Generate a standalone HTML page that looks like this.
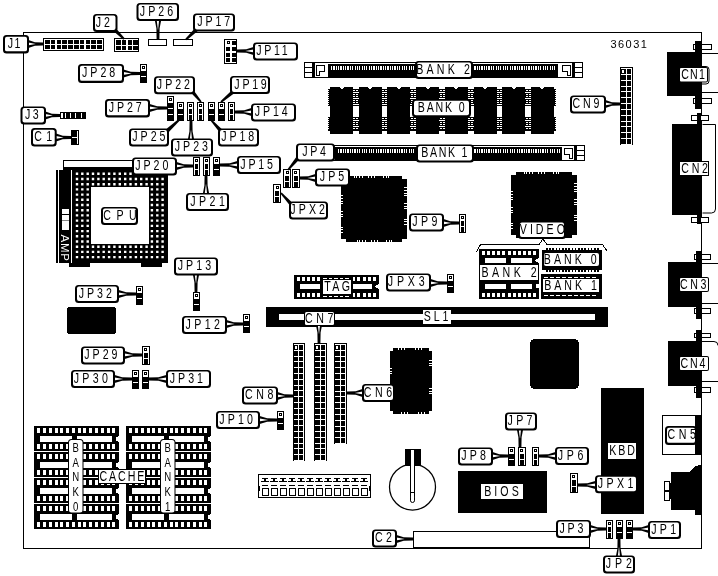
<!DOCTYPE html>
<html><head><meta charset="utf-8"><title>36031</title>
<style>
html,body{margin:0;padding:0;background:#fff}
svg{display:block;will-change:transform}
text{font-family:"Liberation Sans",sans-serif}
</style></head>
<body>
<svg width="718" height="576" viewBox="0 0 718 576" shape-rendering="crispEdges">
<rect x="0" y="0" width="718" height="576" fill="#fff"/>
<rect x="23" y="32" width="679" height="1" fill="#000"/>
<rect x="23" y="32" width="1" height="517" fill="#000"/>
<rect x="701" y="32" width="1" height="517" fill="#000"/>
<rect x="23" y="548" width="679" height="1" fill="#000"/>
<rect x="43.5" y="38.5" width="60" height="12" fill="#fff" stroke="#000" stroke-width="1"/>
<rect x="45.0" y="40" width="4.6" height="4" fill="#000"/>
<rect x="45.0" y="45" width="4.6" height="4" fill="#000"/>
<rect x="50.8" y="40" width="4.6" height="4" fill="#000"/>
<rect x="50.8" y="45" width="4.6" height="4" fill="#000"/>
<rect x="56.6" y="40" width="4.6" height="4" fill="#000"/>
<rect x="56.6" y="45" width="4.6" height="4" fill="#000"/>
<rect x="62.4" y="40" width="4.6" height="4" fill="#000"/>
<rect x="62.4" y="45" width="4.6" height="4" fill="#000"/>
<rect x="68.2" y="40" width="4.6" height="4" fill="#000"/>
<rect x="68.2" y="45" width="4.6" height="4" fill="#000"/>
<rect x="74.0" y="40" width="4.6" height="4" fill="#000"/>
<rect x="74.0" y="45" width="4.6" height="4" fill="#000"/>
<rect x="79.8" y="40" width="4.6" height="4" fill="#000"/>
<rect x="79.8" y="45" width="4.6" height="4" fill="#000"/>
<rect x="85.6" y="40" width="4.6" height="4" fill="#000"/>
<rect x="85.6" y="45" width="4.6" height="4" fill="#000"/>
<rect x="91.4" y="40" width="4.6" height="4" fill="#000"/>
<rect x="91.4" y="45" width="4.6" height="4" fill="#000"/>
<rect x="97.19999999999999" y="40" width="4.6" height="4" fill="#000"/>
<rect x="97.19999999999999" y="45" width="4.6" height="4" fill="#000"/>
<rect x="114.5" y="38.5" width="24" height="13" fill="#fff" stroke="#000" stroke-width="1"/>
<rect x="116.0" y="40.0" width="4.6" height="4.5" fill="#000"/>
<rect x="116.0" y="45.5" width="4.6" height="4.5" fill="#000"/>
<rect x="121.8" y="40.0" width="4.6" height="4.5" fill="#000"/>
<rect x="121.8" y="45.5" width="4.6" height="4.5" fill="#000"/>
<rect x="127.6" y="40.0" width="4.6" height="4.5" fill="#000"/>
<rect x="127.6" y="45.5" width="4.6" height="4.5" fill="#000"/>
<rect x="133.4" y="40.0" width="4.6" height="4.5" fill="#000"/>
<rect x="133.4" y="45.5" width="4.6" height="4.5" fill="#000"/>
<rect x="148.5" y="39.5" width="18" height="6" fill="#fff" stroke="#000" stroke-width="1"/>
<rect x="173.5" y="39.5" width="19" height="6" fill="#fff" stroke="#000" stroke-width="1"/>
<rect x="224.5" y="39.5" width="12" height="24" fill="#fff" stroke="#000" stroke-width="1"/>
<rect x="232" y="41" width="4" height="4" fill="#000"/>
<rect x="226" y="47" width="4" height="4" fill="#000"/>
<rect x="232" y="47" width="4" height="4" fill="#000"/>
<rect x="226" y="53" width="4" height="4" fill="#000"/>
<rect x="232" y="53" width="4" height="4" fill="#000"/>
<rect x="226" y="58" width="4" height="4" fill="#000"/>
<rect x="232" y="58" width="4" height="4" fill="#000"/>
<rect x="227.5" y="41.5" width="2" height="2" fill="#fff" stroke="#000" stroke-width="1"/>
<rect x="304.5" y="62.5" width="278" height="15" fill="#fff" stroke="#000" stroke-width="1"/>
<rect x="304" y="67" width="8" height="1" fill="#000"/>
<rect x="304" y="72" width="8" height="1" fill="#000"/>
<rect x="312" y="62" width="3" height="16" fill="#000"/>
<path d="M316.5,65.5 h8 v6 h-5 v4 h-3 z" fill="#fff" stroke="#000" stroke-width="1"/>
<rect x="575" y="67" width="8" height="1" fill="#000"/>
<rect x="575" y="72" width="8" height="1" fill="#000"/>
<rect x="572" y="62" width="3" height="16" fill="#000"/>
<path d="M570.5,65.5 h-8 v6 h5 v4 h3 z" fill="#fff" stroke="#000" stroke-width="1"/>
<rect x="328" y="63.5" width="230" height="13" fill="#000"/>
<rect x="331" y="66" width="1.2" height="4" fill="#fff"/>
<rect x="333.35" y="66" width="1.2" height="4" fill="#fff"/>
<rect x="335.70000000000005" y="66" width="1.2" height="4" fill="#fff"/>
<rect x="338.05000000000007" y="66" width="1.2" height="4" fill="#fff"/>
<rect x="340.4000000000001" y="66" width="1.2" height="4" fill="#fff"/>
<rect x="342.7500000000001" y="66" width="1.2" height="4" fill="#fff"/>
<rect x="345.10000000000014" y="66" width="1.2" height="4" fill="#fff"/>
<rect x="347.45000000000016" y="66" width="1.2" height="4" fill="#fff"/>
<rect x="349.8000000000002" y="66" width="1.2" height="4" fill="#fff"/>
<rect x="352.1500000000002" y="66" width="1.2" height="4" fill="#fff"/>
<rect x="354.5000000000002" y="66" width="1.2" height="4" fill="#fff"/>
<rect x="356.85000000000025" y="66" width="1.2" height="4" fill="#fff"/>
<rect x="359.2000000000003" y="66" width="1.2" height="4" fill="#fff"/>
<rect x="361.5500000000003" y="66" width="1.2" height="4" fill="#fff"/>
<rect x="363.9000000000003" y="66" width="1.2" height="4" fill="#fff"/>
<rect x="366.25000000000034" y="66" width="1.2" height="4" fill="#fff"/>
<rect x="368.60000000000036" y="66" width="1.2" height="4" fill="#fff"/>
<rect x="370.9500000000004" y="66" width="1.2" height="4" fill="#fff"/>
<rect x="373.3000000000004" y="66" width="1.2" height="4" fill="#fff"/>
<rect x="375.65000000000043" y="66" width="1.2" height="4" fill="#fff"/>
<rect x="378.00000000000045" y="66" width="1.2" height="4" fill="#fff"/>
<rect x="380.3500000000005" y="66" width="1.2" height="4" fill="#fff"/>
<rect x="382.7000000000005" y="66" width="1.2" height="4" fill="#fff"/>
<rect x="385.0500000000005" y="66" width="1.2" height="4" fill="#fff"/>
<rect x="387.40000000000055" y="66" width="1.2" height="4" fill="#fff"/>
<rect x="389.75000000000057" y="66" width="1.2" height="4" fill="#fff"/>
<rect x="392.1000000000006" y="66" width="1.2" height="4" fill="#fff"/>
<rect x="394.4500000000006" y="66" width="1.2" height="4" fill="#fff"/>
<rect x="396.80000000000064" y="66" width="1.2" height="4" fill="#fff"/>
<rect x="399.15000000000066" y="66" width="1.2" height="4" fill="#fff"/>
<rect x="401.5000000000007" y="66" width="1.2" height="4" fill="#fff"/>
<rect x="403.8500000000007" y="66" width="1.2" height="4" fill="#fff"/>
<rect x="406.2000000000007" y="66" width="1.2" height="4" fill="#fff"/>
<rect x="408.55000000000075" y="66" width="1.2" height="4" fill="#fff"/>
<rect x="410.9000000000008" y="66" width="1.2" height="4" fill="#fff"/>
<rect x="413.2500000000008" y="66" width="1.2" height="4" fill="#fff"/>
<rect x="415.6000000000008" y="66" width="1.2" height="4" fill="#fff"/>
<rect x="417.95000000000084" y="66" width="1.2" height="4" fill="#fff"/>
<rect x="420.30000000000086" y="66" width="1.2" height="4" fill="#fff"/>
<rect x="422.6500000000009" y="66" width="1.2" height="4" fill="#fff"/>
<rect x="425.0000000000009" y="66" width="1.2" height="4" fill="#fff"/>
<rect x="427.35000000000093" y="66" width="1.2" height="4" fill="#fff"/>
<rect x="429.70000000000095" y="66" width="1.2" height="4" fill="#fff"/>
<rect x="432.050000000001" y="66" width="1.2" height="4" fill="#fff"/>
<rect x="434.400000000001" y="66" width="1.2" height="4" fill="#fff"/>
<rect x="436.750000000001" y="66" width="1.2" height="4" fill="#fff"/>
<rect x="439.10000000000105" y="66" width="1.2" height="4" fill="#fff"/>
<rect x="441.45000000000107" y="66" width="1.2" height="4" fill="#fff"/>
<rect x="443.8000000000011" y="66" width="1.2" height="4" fill="#fff"/>
<rect x="446.1500000000011" y="66" width="1.2" height="4" fill="#fff"/>
<rect x="448.50000000000114" y="66" width="1.2" height="4" fill="#fff"/>
<rect x="450.85000000000116" y="66" width="1.2" height="4" fill="#fff"/>
<rect x="453.2000000000012" y="66" width="1.2" height="4" fill="#fff"/>
<rect x="455.5500000000012" y="66" width="1.2" height="4" fill="#fff"/>
<rect x="457.9000000000012" y="66" width="1.2" height="4" fill="#fff"/>
<rect x="460.25000000000125" y="66" width="1.2" height="4" fill="#fff"/>
<rect x="462.6000000000013" y="66" width="1.2" height="4" fill="#fff"/>
<rect x="464.9500000000013" y="66" width="1.2" height="4" fill="#fff"/>
<rect x="467.3000000000013" y="66" width="1.2" height="4" fill="#fff"/>
<rect x="469.65000000000134" y="66" width="1.2" height="4" fill="#fff"/>
<rect x="472.00000000000136" y="66" width="1.2" height="4" fill="#fff"/>
<rect x="474.3500000000014" y="66" width="1.2" height="4" fill="#fff"/>
<rect x="476.7000000000014" y="66" width="1.2" height="4" fill="#fff"/>
<rect x="479.05000000000143" y="66" width="1.2" height="4" fill="#fff"/>
<rect x="481.40000000000146" y="66" width="1.2" height="4" fill="#fff"/>
<rect x="483.7500000000015" y="66" width="1.2" height="4" fill="#fff"/>
<rect x="486.1000000000015" y="66" width="1.2" height="4" fill="#fff"/>
<rect x="488.4500000000015" y="66" width="1.2" height="4" fill="#fff"/>
<rect x="490.80000000000155" y="66" width="1.2" height="4" fill="#fff"/>
<rect x="493.15000000000157" y="66" width="1.2" height="4" fill="#fff"/>
<rect x="495.5000000000016" y="66" width="1.2" height="4" fill="#fff"/>
<rect x="497.8500000000016" y="66" width="1.2" height="4" fill="#fff"/>
<rect x="500.20000000000164" y="66" width="1.2" height="4" fill="#fff"/>
<rect x="502.55000000000166" y="66" width="1.2" height="4" fill="#fff"/>
<rect x="504.9000000000017" y="66" width="1.2" height="4" fill="#fff"/>
<rect x="507.2500000000017" y="66" width="1.2" height="4" fill="#fff"/>
<rect x="509.6000000000017" y="66" width="1.2" height="4" fill="#fff"/>
<rect x="511.95000000000175" y="66" width="1.2" height="4" fill="#fff"/>
<rect x="514.3000000000018" y="66" width="1.2" height="4" fill="#fff"/>
<rect x="516.6500000000018" y="66" width="1.2" height="4" fill="#fff"/>
<rect x="519.0000000000018" y="66" width="1.2" height="4" fill="#fff"/>
<rect x="521.3500000000018" y="66" width="1.2" height="4" fill="#fff"/>
<rect x="523.7000000000019" y="66" width="1.2" height="4" fill="#fff"/>
<rect x="526.0500000000019" y="66" width="1.2" height="4" fill="#fff"/>
<rect x="528.4000000000019" y="66" width="1.2" height="4" fill="#fff"/>
<rect x="530.7500000000019" y="66" width="1.2" height="4" fill="#fff"/>
<rect x="533.100000000002" y="66" width="1.2" height="4" fill="#fff"/>
<rect x="535.450000000002" y="66" width="1.2" height="4" fill="#fff"/>
<rect x="537.800000000002" y="66" width="1.2" height="4" fill="#fff"/>
<rect x="540.150000000002" y="66" width="1.2" height="4" fill="#fff"/>
<rect x="542.500000000002" y="66" width="1.2" height="4" fill="#fff"/>
<rect x="544.8500000000021" y="66" width="1.2" height="4" fill="#fff"/>
<rect x="547.2000000000021" y="66" width="1.2" height="4" fill="#fff"/>
<rect x="549.5500000000021" y="66" width="1.2" height="4" fill="#fff"/>
<rect x="551.9000000000021" y="66" width="1.2" height="4" fill="#fff"/>
<rect x="554.2500000000022" y="66" width="1.2" height="4" fill="#fff"/>
<rect x="320.5" y="145.5" width="264" height="15" fill="#fff" stroke="#000" stroke-width="1"/>
<rect x="577" y="150" width="8" height="1" fill="#000"/>
<rect x="577" y="155" width="8" height="1" fill="#000"/>
<rect x="574" y="145" width="3" height="16" fill="#000"/>
<path d="M572.5,148.5 h-8 v6 h5 v4 h3 z" fill="#fff" stroke="#000" stroke-width="1"/>
<rect x="335" y="146.5" width="227" height="13" fill="#000"/>
<rect x="338" y="149" width="1.2" height="4" fill="#fff"/>
<rect x="340.35" y="149" width="1.2" height="4" fill="#fff"/>
<rect x="342.70000000000005" y="149" width="1.2" height="4" fill="#fff"/>
<rect x="345.05000000000007" y="149" width="1.2" height="4" fill="#fff"/>
<rect x="347.4000000000001" y="149" width="1.2" height="4" fill="#fff"/>
<rect x="349.7500000000001" y="149" width="1.2" height="4" fill="#fff"/>
<rect x="352.10000000000014" y="149" width="1.2" height="4" fill="#fff"/>
<rect x="354.45000000000016" y="149" width="1.2" height="4" fill="#fff"/>
<rect x="356.8000000000002" y="149" width="1.2" height="4" fill="#fff"/>
<rect x="359.1500000000002" y="149" width="1.2" height="4" fill="#fff"/>
<rect x="361.5000000000002" y="149" width="1.2" height="4" fill="#fff"/>
<rect x="363.85000000000025" y="149" width="1.2" height="4" fill="#fff"/>
<rect x="366.2000000000003" y="149" width="1.2" height="4" fill="#fff"/>
<rect x="368.5500000000003" y="149" width="1.2" height="4" fill="#fff"/>
<rect x="370.9000000000003" y="149" width="1.2" height="4" fill="#fff"/>
<rect x="373.25000000000034" y="149" width="1.2" height="4" fill="#fff"/>
<rect x="375.60000000000036" y="149" width="1.2" height="4" fill="#fff"/>
<rect x="377.9500000000004" y="149" width="1.2" height="4" fill="#fff"/>
<rect x="380.3000000000004" y="149" width="1.2" height="4" fill="#fff"/>
<rect x="382.65000000000043" y="149" width="1.2" height="4" fill="#fff"/>
<rect x="385.00000000000045" y="149" width="1.2" height="4" fill="#fff"/>
<rect x="387.3500000000005" y="149" width="1.2" height="4" fill="#fff"/>
<rect x="389.7000000000005" y="149" width="1.2" height="4" fill="#fff"/>
<rect x="392.0500000000005" y="149" width="1.2" height="4" fill="#fff"/>
<rect x="394.40000000000055" y="149" width="1.2" height="4" fill="#fff"/>
<rect x="396.75000000000057" y="149" width="1.2" height="4" fill="#fff"/>
<rect x="399.1000000000006" y="149" width="1.2" height="4" fill="#fff"/>
<rect x="401.4500000000006" y="149" width="1.2" height="4" fill="#fff"/>
<rect x="403.80000000000064" y="149" width="1.2" height="4" fill="#fff"/>
<rect x="406.15000000000066" y="149" width="1.2" height="4" fill="#fff"/>
<rect x="408.5000000000007" y="149" width="1.2" height="4" fill="#fff"/>
<rect x="410.8500000000007" y="149" width="1.2" height="4" fill="#fff"/>
<rect x="413.2000000000007" y="149" width="1.2" height="4" fill="#fff"/>
<rect x="415.55000000000075" y="149" width="1.2" height="4" fill="#fff"/>
<rect x="417.9000000000008" y="149" width="1.2" height="4" fill="#fff"/>
<rect x="420.2500000000008" y="149" width="1.2" height="4" fill="#fff"/>
<rect x="422.6000000000008" y="149" width="1.2" height="4" fill="#fff"/>
<rect x="424.95000000000084" y="149" width="1.2" height="4" fill="#fff"/>
<rect x="427.30000000000086" y="149" width="1.2" height="4" fill="#fff"/>
<rect x="429.6500000000009" y="149" width="1.2" height="4" fill="#fff"/>
<rect x="432.0000000000009" y="149" width="1.2" height="4" fill="#fff"/>
<rect x="434.35000000000093" y="149" width="1.2" height="4" fill="#fff"/>
<rect x="436.70000000000095" y="149" width="1.2" height="4" fill="#fff"/>
<rect x="439.050000000001" y="149" width="1.2" height="4" fill="#fff"/>
<rect x="441.400000000001" y="149" width="1.2" height="4" fill="#fff"/>
<rect x="443.750000000001" y="149" width="1.2" height="4" fill="#fff"/>
<rect x="446.10000000000105" y="149" width="1.2" height="4" fill="#fff"/>
<rect x="448.45000000000107" y="149" width="1.2" height="4" fill="#fff"/>
<rect x="450.8000000000011" y="149" width="1.2" height="4" fill="#fff"/>
<rect x="453.1500000000011" y="149" width="1.2" height="4" fill="#fff"/>
<rect x="455.50000000000114" y="149" width="1.2" height="4" fill="#fff"/>
<rect x="457.85000000000116" y="149" width="1.2" height="4" fill="#fff"/>
<rect x="460.2000000000012" y="149" width="1.2" height="4" fill="#fff"/>
<rect x="462.5500000000012" y="149" width="1.2" height="4" fill="#fff"/>
<rect x="464.9000000000012" y="149" width="1.2" height="4" fill="#fff"/>
<rect x="467.25000000000125" y="149" width="1.2" height="4" fill="#fff"/>
<rect x="469.6000000000013" y="149" width="1.2" height="4" fill="#fff"/>
<rect x="471.9500000000013" y="149" width="1.2" height="4" fill="#fff"/>
<rect x="474.3000000000013" y="149" width="1.2" height="4" fill="#fff"/>
<rect x="476.65000000000134" y="149" width="1.2" height="4" fill="#fff"/>
<rect x="479.00000000000136" y="149" width="1.2" height="4" fill="#fff"/>
<rect x="481.3500000000014" y="149" width="1.2" height="4" fill="#fff"/>
<rect x="483.7000000000014" y="149" width="1.2" height="4" fill="#fff"/>
<rect x="486.05000000000143" y="149" width="1.2" height="4" fill="#fff"/>
<rect x="488.40000000000146" y="149" width="1.2" height="4" fill="#fff"/>
<rect x="490.7500000000015" y="149" width="1.2" height="4" fill="#fff"/>
<rect x="493.1000000000015" y="149" width="1.2" height="4" fill="#fff"/>
<rect x="495.4500000000015" y="149" width="1.2" height="4" fill="#fff"/>
<rect x="497.80000000000155" y="149" width="1.2" height="4" fill="#fff"/>
<rect x="500.15000000000157" y="149" width="1.2" height="4" fill="#fff"/>
<rect x="502.5000000000016" y="149" width="1.2" height="4" fill="#fff"/>
<rect x="504.8500000000016" y="149" width="1.2" height="4" fill="#fff"/>
<rect x="507.20000000000164" y="149" width="1.2" height="4" fill="#fff"/>
<rect x="509.55000000000166" y="149" width="1.2" height="4" fill="#fff"/>
<rect x="511.9000000000017" y="149" width="1.2" height="4" fill="#fff"/>
<rect x="514.2500000000017" y="149" width="1.2" height="4" fill="#fff"/>
<rect x="516.6000000000017" y="149" width="1.2" height="4" fill="#fff"/>
<rect x="518.9500000000018" y="149" width="1.2" height="4" fill="#fff"/>
<rect x="521.3000000000018" y="149" width="1.2" height="4" fill="#fff"/>
<rect x="523.6500000000018" y="149" width="1.2" height="4" fill="#fff"/>
<rect x="526.0000000000018" y="149" width="1.2" height="4" fill="#fff"/>
<rect x="528.3500000000018" y="149" width="1.2" height="4" fill="#fff"/>
<rect x="530.7000000000019" y="149" width="1.2" height="4" fill="#fff"/>
<rect x="533.0500000000019" y="149" width="1.2" height="4" fill="#fff"/>
<rect x="535.4000000000019" y="149" width="1.2" height="4" fill="#fff"/>
<rect x="537.7500000000019" y="149" width="1.2" height="4" fill="#fff"/>
<rect x="540.100000000002" y="149" width="1.2" height="4" fill="#fff"/>
<rect x="542.450000000002" y="149" width="1.2" height="4" fill="#fff"/>
<rect x="544.800000000002" y="149" width="1.2" height="4" fill="#fff"/>
<rect x="547.150000000002" y="149" width="1.2" height="4" fill="#fff"/>
<rect x="549.500000000002" y="149" width="1.2" height="4" fill="#fff"/>
<rect x="551.8500000000021" y="149" width="1.2" height="4" fill="#fff"/>
<rect x="554.2000000000021" y="149" width="1.2" height="4" fill="#fff"/>
<rect x="556.5500000000021" y="149" width="1.2" height="4" fill="#fff"/>
<rect x="558.9000000000021" y="149" width="1.2" height="4" fill="#fff"/>
<rect x="330.0" y="87" width="23" height="46.5" fill="#000"/>
<polygon points="339.0,87 344.0,87 341.5,89.5" fill="#fff"/>
<rect x="358.7" y="87" width="23" height="46.5" fill="#000"/>
<polygon points="367.7,87 372.7,87 370.2,89.5" fill="#fff"/>
<rect x="387.4" y="87" width="23" height="46.5" fill="#000"/>
<polygon points="396.4,87 401.4,87 398.9,89.5" fill="#fff"/>
<rect x="416.1" y="87" width="23" height="46.5" fill="#000"/>
<polygon points="425.1,87 430.1,87 427.6,89.5" fill="#fff"/>
<rect x="444.8" y="87" width="23" height="46.5" fill="#000"/>
<polygon points="453.8,87 458.8,87 456.3,89.5" fill="#fff"/>
<rect x="473.5" y="87" width="23" height="46.5" fill="#000"/>
<polygon points="482.5,87 487.5,87 485.0,89.5" fill="#fff"/>
<rect x="502.2" y="87" width="23" height="46.5" fill="#000"/>
<polygon points="511.2,87 516.2,87 513.7,89.5" fill="#fff"/>
<rect x="530.9" y="87" width="23" height="46.5" fill="#000"/>
<polygon points="539.9,87 544.9,87 542.4,89.5" fill="#fff"/>
<rect x="328" y="89" width="2" height="17" fill="#000"/>
<rect x="328" y="90" width="1" height="1" fill="#fff"/>
<rect x="328" y="92" width="1" height="1" fill="#fff"/>
<rect x="328" y="94" width="1" height="1" fill="#fff"/>
<rect x="328" y="96" width="1" height="1" fill="#fff"/>
<rect x="328" y="98" width="1" height="1" fill="#fff"/>
<rect x="328" y="100" width="1" height="1" fill="#fff"/>
<rect x="328" y="102" width="1" height="1" fill="#fff"/>
<rect x="328" y="104" width="1" height="1" fill="#fff"/>
<rect x="328" y="117" width="2" height="14" fill="#000"/>
<rect x="328" y="118" width="1" height="1" fill="#fff"/>
<rect x="328" y="120" width="1" height="1" fill="#fff"/>
<rect x="328" y="122" width="1" height="1" fill="#fff"/>
<rect x="328" y="124" width="1" height="1" fill="#fff"/>
<rect x="328" y="126" width="1" height="1" fill="#fff"/>
<rect x="328" y="128" width="1" height="1" fill="#fff"/>
<rect x="353.0" y="89" width="5.7" height="17" fill="#000"/>
<rect x="353.4" y="90" width="2" height="1" fill="#fff"/>
<rect x="356.4" y="90" width="2" height="1" fill="#fff"/>
<rect x="353.0" y="92" width="5.7" height="1" fill="#fff"/>
<rect x="353.4" y="94" width="2" height="1" fill="#fff"/>
<rect x="356.4" y="94" width="2" height="1" fill="#fff"/>
<rect x="353.4" y="96" width="2" height="1" fill="#fff"/>
<rect x="356.4" y="96" width="2" height="1" fill="#fff"/>
<rect x="353.0" y="98" width="5.7" height="1" fill="#fff"/>
<rect x="353.4" y="100" width="2" height="1" fill="#fff"/>
<rect x="356.4" y="100" width="2" height="1" fill="#fff"/>
<rect x="353.4" y="102" width="2" height="1" fill="#fff"/>
<rect x="356.4" y="102" width="2" height="1" fill="#fff"/>
<rect x="353.0" y="104" width="5.7" height="1" fill="#fff"/>
<rect x="353.0" y="117" width="5.7" height="14" fill="#000"/>
<rect x="353.4" y="118" width="2" height="1" fill="#fff"/>
<rect x="356.4" y="118" width="2" height="1" fill="#fff"/>
<rect x="353.0" y="120" width="5.7" height="1" fill="#fff"/>
<rect x="353.4" y="122" width="2" height="1" fill="#fff"/>
<rect x="356.4" y="122" width="2" height="1" fill="#fff"/>
<rect x="353.4" y="124" width="2" height="1" fill="#fff"/>
<rect x="356.4" y="124" width="2" height="1" fill="#fff"/>
<rect x="353.0" y="126" width="5.7" height="1" fill="#fff"/>
<rect x="353.4" y="128" width="2" height="1" fill="#fff"/>
<rect x="356.4" y="128" width="2" height="1" fill="#fff"/>
<rect x="381.7" y="89" width="5.7" height="17" fill="#000"/>
<rect x="382.09999999999997" y="90" width="2" height="1" fill="#fff"/>
<rect x="385.09999999999997" y="90" width="2" height="1" fill="#fff"/>
<rect x="381.7" y="92" width="5.7" height="1" fill="#fff"/>
<rect x="382.09999999999997" y="94" width="2" height="1" fill="#fff"/>
<rect x="385.09999999999997" y="94" width="2" height="1" fill="#fff"/>
<rect x="382.09999999999997" y="96" width="2" height="1" fill="#fff"/>
<rect x="385.09999999999997" y="96" width="2" height="1" fill="#fff"/>
<rect x="381.7" y="98" width="5.7" height="1" fill="#fff"/>
<rect x="382.09999999999997" y="100" width="2" height="1" fill="#fff"/>
<rect x="385.09999999999997" y="100" width="2" height="1" fill="#fff"/>
<rect x="382.09999999999997" y="102" width="2" height="1" fill="#fff"/>
<rect x="385.09999999999997" y="102" width="2" height="1" fill="#fff"/>
<rect x="381.7" y="104" width="5.7" height="1" fill="#fff"/>
<rect x="381.7" y="117" width="5.7" height="14" fill="#000"/>
<rect x="382.09999999999997" y="118" width="2" height="1" fill="#fff"/>
<rect x="385.09999999999997" y="118" width="2" height="1" fill="#fff"/>
<rect x="381.7" y="120" width="5.7" height="1" fill="#fff"/>
<rect x="382.09999999999997" y="122" width="2" height="1" fill="#fff"/>
<rect x="385.09999999999997" y="122" width="2" height="1" fill="#fff"/>
<rect x="382.09999999999997" y="124" width="2" height="1" fill="#fff"/>
<rect x="385.09999999999997" y="124" width="2" height="1" fill="#fff"/>
<rect x="381.7" y="126" width="5.7" height="1" fill="#fff"/>
<rect x="382.09999999999997" y="128" width="2" height="1" fill="#fff"/>
<rect x="385.09999999999997" y="128" width="2" height="1" fill="#fff"/>
<rect x="410.40000000000003" y="89" width="5.7" height="17" fill="#000"/>
<rect x="410.8" y="90" width="2" height="1" fill="#fff"/>
<rect x="413.8" y="90" width="2" height="1" fill="#fff"/>
<rect x="410.40000000000003" y="92" width="5.7" height="1" fill="#fff"/>
<rect x="410.8" y="94" width="2" height="1" fill="#fff"/>
<rect x="413.8" y="94" width="2" height="1" fill="#fff"/>
<rect x="410.8" y="96" width="2" height="1" fill="#fff"/>
<rect x="413.8" y="96" width="2" height="1" fill="#fff"/>
<rect x="410.40000000000003" y="98" width="5.7" height="1" fill="#fff"/>
<rect x="410.8" y="100" width="2" height="1" fill="#fff"/>
<rect x="413.8" y="100" width="2" height="1" fill="#fff"/>
<rect x="410.8" y="102" width="2" height="1" fill="#fff"/>
<rect x="413.8" y="102" width="2" height="1" fill="#fff"/>
<rect x="410.40000000000003" y="104" width="5.7" height="1" fill="#fff"/>
<rect x="410.40000000000003" y="117" width="5.7" height="14" fill="#000"/>
<rect x="410.8" y="118" width="2" height="1" fill="#fff"/>
<rect x="413.8" y="118" width="2" height="1" fill="#fff"/>
<rect x="410.40000000000003" y="120" width="5.7" height="1" fill="#fff"/>
<rect x="410.8" y="122" width="2" height="1" fill="#fff"/>
<rect x="413.8" y="122" width="2" height="1" fill="#fff"/>
<rect x="410.8" y="124" width="2" height="1" fill="#fff"/>
<rect x="413.8" y="124" width="2" height="1" fill="#fff"/>
<rect x="410.40000000000003" y="126" width="5.7" height="1" fill="#fff"/>
<rect x="410.8" y="128" width="2" height="1" fill="#fff"/>
<rect x="413.8" y="128" width="2" height="1" fill="#fff"/>
<rect x="439.1" y="89" width="5.7" height="17" fill="#000"/>
<rect x="439.5" y="90" width="2" height="1" fill="#fff"/>
<rect x="442.5" y="90" width="2" height="1" fill="#fff"/>
<rect x="439.1" y="92" width="5.7" height="1" fill="#fff"/>
<rect x="439.5" y="94" width="2" height="1" fill="#fff"/>
<rect x="442.5" y="94" width="2" height="1" fill="#fff"/>
<rect x="439.5" y="96" width="2" height="1" fill="#fff"/>
<rect x="442.5" y="96" width="2" height="1" fill="#fff"/>
<rect x="439.1" y="98" width="5.7" height="1" fill="#fff"/>
<rect x="439.5" y="100" width="2" height="1" fill="#fff"/>
<rect x="442.5" y="100" width="2" height="1" fill="#fff"/>
<rect x="439.5" y="102" width="2" height="1" fill="#fff"/>
<rect x="442.5" y="102" width="2" height="1" fill="#fff"/>
<rect x="439.1" y="104" width="5.7" height="1" fill="#fff"/>
<rect x="439.1" y="117" width="5.7" height="14" fill="#000"/>
<rect x="439.5" y="118" width="2" height="1" fill="#fff"/>
<rect x="442.5" y="118" width="2" height="1" fill="#fff"/>
<rect x="439.1" y="120" width="5.7" height="1" fill="#fff"/>
<rect x="439.5" y="122" width="2" height="1" fill="#fff"/>
<rect x="442.5" y="122" width="2" height="1" fill="#fff"/>
<rect x="439.5" y="124" width="2" height="1" fill="#fff"/>
<rect x="442.5" y="124" width="2" height="1" fill="#fff"/>
<rect x="439.1" y="126" width="5.7" height="1" fill="#fff"/>
<rect x="439.5" y="128" width="2" height="1" fill="#fff"/>
<rect x="442.5" y="128" width="2" height="1" fill="#fff"/>
<rect x="467.8" y="89" width="5.7" height="17" fill="#000"/>
<rect x="468.2" y="90" width="2" height="1" fill="#fff"/>
<rect x="471.2" y="90" width="2" height="1" fill="#fff"/>
<rect x="467.8" y="92" width="5.7" height="1" fill="#fff"/>
<rect x="468.2" y="94" width="2" height="1" fill="#fff"/>
<rect x="471.2" y="94" width="2" height="1" fill="#fff"/>
<rect x="468.2" y="96" width="2" height="1" fill="#fff"/>
<rect x="471.2" y="96" width="2" height="1" fill="#fff"/>
<rect x="467.8" y="98" width="5.7" height="1" fill="#fff"/>
<rect x="468.2" y="100" width="2" height="1" fill="#fff"/>
<rect x="471.2" y="100" width="2" height="1" fill="#fff"/>
<rect x="468.2" y="102" width="2" height="1" fill="#fff"/>
<rect x="471.2" y="102" width="2" height="1" fill="#fff"/>
<rect x="467.8" y="104" width="5.7" height="1" fill="#fff"/>
<rect x="467.8" y="117" width="5.7" height="14" fill="#000"/>
<rect x="468.2" y="118" width="2" height="1" fill="#fff"/>
<rect x="471.2" y="118" width="2" height="1" fill="#fff"/>
<rect x="467.8" y="120" width="5.7" height="1" fill="#fff"/>
<rect x="468.2" y="122" width="2" height="1" fill="#fff"/>
<rect x="471.2" y="122" width="2" height="1" fill="#fff"/>
<rect x="468.2" y="124" width="2" height="1" fill="#fff"/>
<rect x="471.2" y="124" width="2" height="1" fill="#fff"/>
<rect x="467.8" y="126" width="5.7" height="1" fill="#fff"/>
<rect x="468.2" y="128" width="2" height="1" fill="#fff"/>
<rect x="471.2" y="128" width="2" height="1" fill="#fff"/>
<rect x="496.5" y="89" width="5.7" height="17" fill="#000"/>
<rect x="496.9" y="90" width="2" height="1" fill="#fff"/>
<rect x="499.9" y="90" width="2" height="1" fill="#fff"/>
<rect x="496.5" y="92" width="5.7" height="1" fill="#fff"/>
<rect x="496.9" y="94" width="2" height="1" fill="#fff"/>
<rect x="499.9" y="94" width="2" height="1" fill="#fff"/>
<rect x="496.9" y="96" width="2" height="1" fill="#fff"/>
<rect x="499.9" y="96" width="2" height="1" fill="#fff"/>
<rect x="496.5" y="98" width="5.7" height="1" fill="#fff"/>
<rect x="496.9" y="100" width="2" height="1" fill="#fff"/>
<rect x="499.9" y="100" width="2" height="1" fill="#fff"/>
<rect x="496.9" y="102" width="2" height="1" fill="#fff"/>
<rect x="499.9" y="102" width="2" height="1" fill="#fff"/>
<rect x="496.5" y="104" width="5.7" height="1" fill="#fff"/>
<rect x="496.5" y="117" width="5.7" height="14" fill="#000"/>
<rect x="496.9" y="118" width="2" height="1" fill="#fff"/>
<rect x="499.9" y="118" width="2" height="1" fill="#fff"/>
<rect x="496.5" y="120" width="5.7" height="1" fill="#fff"/>
<rect x="496.9" y="122" width="2" height="1" fill="#fff"/>
<rect x="499.9" y="122" width="2" height="1" fill="#fff"/>
<rect x="496.9" y="124" width="2" height="1" fill="#fff"/>
<rect x="499.9" y="124" width="2" height="1" fill="#fff"/>
<rect x="496.5" y="126" width="5.7" height="1" fill="#fff"/>
<rect x="496.9" y="128" width="2" height="1" fill="#fff"/>
<rect x="499.9" y="128" width="2" height="1" fill="#fff"/>
<rect x="525.1999999999999" y="89" width="5.7" height="17" fill="#000"/>
<rect x="525.5999999999999" y="90" width="2" height="1" fill="#fff"/>
<rect x="528.5999999999999" y="90" width="2" height="1" fill="#fff"/>
<rect x="525.1999999999999" y="92" width="5.7" height="1" fill="#fff"/>
<rect x="525.5999999999999" y="94" width="2" height="1" fill="#fff"/>
<rect x="528.5999999999999" y="94" width="2" height="1" fill="#fff"/>
<rect x="525.5999999999999" y="96" width="2" height="1" fill="#fff"/>
<rect x="528.5999999999999" y="96" width="2" height="1" fill="#fff"/>
<rect x="525.1999999999999" y="98" width="5.7" height="1" fill="#fff"/>
<rect x="525.5999999999999" y="100" width="2" height="1" fill="#fff"/>
<rect x="528.5999999999999" y="100" width="2" height="1" fill="#fff"/>
<rect x="525.5999999999999" y="102" width="2" height="1" fill="#fff"/>
<rect x="528.5999999999999" y="102" width="2" height="1" fill="#fff"/>
<rect x="525.1999999999999" y="104" width="5.7" height="1" fill="#fff"/>
<rect x="525.1999999999999" y="117" width="5.7" height="14" fill="#000"/>
<rect x="525.5999999999999" y="118" width="2" height="1" fill="#fff"/>
<rect x="528.5999999999999" y="118" width="2" height="1" fill="#fff"/>
<rect x="525.1999999999999" y="120" width="5.7" height="1" fill="#fff"/>
<rect x="525.5999999999999" y="122" width="2" height="1" fill="#fff"/>
<rect x="528.5999999999999" y="122" width="2" height="1" fill="#fff"/>
<rect x="525.5999999999999" y="124" width="2" height="1" fill="#fff"/>
<rect x="528.5999999999999" y="124" width="2" height="1" fill="#fff"/>
<rect x="525.1999999999999" y="126" width="5.7" height="1" fill="#fff"/>
<rect x="525.5999999999999" y="128" width="2" height="1" fill="#fff"/>
<rect x="528.5999999999999" y="128" width="2" height="1" fill="#fff"/>
<rect x="553.9" y="89" width="2.5" height="17" fill="#000"/>
<rect x="554.9" y="90" width="1" height="1" fill="#fff"/>
<rect x="554.9" y="92" width="1" height="1" fill="#fff"/>
<rect x="554.9" y="94" width="1" height="1" fill="#fff"/>
<rect x="554.9" y="96" width="1" height="1" fill="#fff"/>
<rect x="554.9" y="98" width="1" height="1" fill="#fff"/>
<rect x="554.9" y="100" width="1" height="1" fill="#fff"/>
<rect x="554.9" y="102" width="1" height="1" fill="#fff"/>
<rect x="554.9" y="104" width="1" height="1" fill="#fff"/>
<rect x="553.9" y="117" width="2.5" height="14" fill="#000"/>
<rect x="554.9" y="118" width="1" height="1" fill="#fff"/>
<rect x="554.9" y="120" width="1" height="1" fill="#fff"/>
<rect x="554.9" y="122" width="1" height="1" fill="#fff"/>
<rect x="554.9" y="124" width="1" height="1" fill="#fff"/>
<rect x="554.9" y="126" width="1" height="1" fill="#fff"/>
<rect x="554.9" y="128" width="1" height="1" fill="#fff"/>
<polygon points="346,176 402,176 402,179 407,179 407,239 402,239 402,242 346,242 346,239 341,239 341,179 346,179" fill="#000"/>
<rect x="354" y="176" width="1" height="2" fill="#fff"/>
<rect x="357" y="240" width="1" height="2" fill="#fff"/>
<rect x="404" y="187" width="3" height="1" fill="#fff"/>
<rect x="341" y="195" width="2" height="1" fill="#fff"/>
<rect x="356" y="176" width="1" height="2" fill="#fff"/>
<rect x="359" y="240" width="1" height="2" fill="#fff"/>
<rect x="404" y="190" width="3" height="1" fill="#fff"/>
<rect x="341" y="198" width="2" height="1" fill="#fff"/>
<rect x="359" y="176" width="1" height="2" fill="#fff"/>
<rect x="362" y="240" width="1" height="2" fill="#fff"/>
<rect x="404" y="193" width="3" height="1" fill="#fff"/>
<rect x="341" y="201" width="2" height="1" fill="#fff"/>
<rect x="362" y="176" width="1" height="2" fill="#fff"/>
<rect x="365" y="240" width="1" height="2" fill="#fff"/>
<rect x="404" y="195" width="3" height="1" fill="#fff"/>
<rect x="341" y="203" width="2" height="1" fill="#fff"/>
<rect x="368" y="176" width="1" height="2" fill="#fff"/>
<rect x="371" y="240" width="1" height="2" fill="#fff"/>
<rect x="404" y="203" width="3" height="1" fill="#fff"/>
<rect x="341" y="211" width="2" height="1" fill="#fff"/>
<rect x="371" y="176" width="1" height="2" fill="#fff"/>
<rect x="374" y="240" width="1" height="2" fill="#fff"/>
<rect x="404" y="206" width="3" height="1" fill="#fff"/>
<rect x="341" y="214" width="2" height="1" fill="#fff"/>
<rect x="374" y="176" width="1" height="2" fill="#fff"/>
<rect x="377" y="240" width="1" height="2" fill="#fff"/>
<rect x="404" y="208" width="3" height="1" fill="#fff"/>
<rect x="341" y="216" width="2" height="1" fill="#fff"/>
<rect x="383" y="176" width="1" height="2" fill="#fff"/>
<rect x="386" y="240" width="1" height="2" fill="#fff"/>
<rect x="404" y="219" width="3" height="1" fill="#fff"/>
<rect x="341" y="227" width="2" height="1" fill="#fff"/>
<rect x="386" y="176" width="1" height="2" fill="#fff"/>
<rect x="389" y="240" width="1" height="2" fill="#fff"/>
<rect x="404" y="221" width="3" height="1" fill="#fff"/>
<rect x="341" y="229" width="2" height="1" fill="#fff"/>
<rect x="388" y="176" width="1" height="2" fill="#fff"/>
<rect x="391" y="240" width="1" height="2" fill="#fff"/>
<rect x="404" y="224" width="3" height="1" fill="#fff"/>
<rect x="341" y="232" width="2" height="1" fill="#fff"/>
<polygon points="516,172 572,172 572,175 577,175 577,235 572,235 572,238 516,238 516,235 511,235 511,175 516,175" fill="#000"/>
<rect x="524" y="172" width="1" height="2" fill="#fff"/>
<rect x="527" y="236" width="1" height="2" fill="#fff"/>
<rect x="574" y="183" width="3" height="1" fill="#fff"/>
<rect x="511" y="191" width="2" height="1" fill="#fff"/>
<rect x="526" y="172" width="1" height="2" fill="#fff"/>
<rect x="529" y="236" width="1" height="2" fill="#fff"/>
<rect x="574" y="186" width="3" height="1" fill="#fff"/>
<rect x="511" y="194" width="2" height="1" fill="#fff"/>
<rect x="529" y="172" width="1" height="2" fill="#fff"/>
<rect x="532" y="236" width="1" height="2" fill="#fff"/>
<rect x="574" y="189" width="3" height="1" fill="#fff"/>
<rect x="511" y="197" width="2" height="1" fill="#fff"/>
<rect x="532" y="172" width="1" height="2" fill="#fff"/>
<rect x="535" y="236" width="1" height="2" fill="#fff"/>
<rect x="574" y="191" width="3" height="1" fill="#fff"/>
<rect x="511" y="199" width="2" height="1" fill="#fff"/>
<rect x="538" y="172" width="1" height="2" fill="#fff"/>
<rect x="541" y="236" width="1" height="2" fill="#fff"/>
<rect x="574" y="199" width="3" height="1" fill="#fff"/>
<rect x="511" y="207" width="2" height="1" fill="#fff"/>
<rect x="541" y="172" width="1" height="2" fill="#fff"/>
<rect x="544" y="236" width="1" height="2" fill="#fff"/>
<rect x="574" y="202" width="3" height="1" fill="#fff"/>
<rect x="511" y="210" width="2" height="1" fill="#fff"/>
<rect x="544" y="172" width="1" height="2" fill="#fff"/>
<rect x="547" y="236" width="1" height="2" fill="#fff"/>
<rect x="574" y="204" width="3" height="1" fill="#fff"/>
<rect x="511" y="212" width="2" height="1" fill="#fff"/>
<rect x="553" y="172" width="1" height="2" fill="#fff"/>
<rect x="556" y="236" width="1" height="2" fill="#fff"/>
<rect x="574" y="215" width="3" height="1" fill="#fff"/>
<rect x="511" y="223" width="2" height="1" fill="#fff"/>
<rect x="556" y="172" width="1" height="2" fill="#fff"/>
<rect x="559" y="236" width="1" height="2" fill="#fff"/>
<rect x="574" y="217" width="3" height="1" fill="#fff"/>
<rect x="511" y="225" width="2" height="1" fill="#fff"/>
<rect x="558" y="172" width="1" height="2" fill="#fff"/>
<rect x="561" y="236" width="1" height="2" fill="#fff"/>
<rect x="574" y="220" width="3" height="1" fill="#fff"/>
<rect x="511" y="228" width="2" height="1" fill="#fff"/>
<polygon points="393,348 429,348 429,351 432,351 432,411 429,411 429,414 393,414 393,411 390,411 390,351 393,351" fill="#000"/>
<rect x="398" y="348" width="1" height="2" fill="#fff"/>
<rect x="401" y="412" width="1" height="2" fill="#fff"/>
<rect x="429" y="360" width="3" height="1" fill="#fff"/>
<rect x="390" y="368" width="2" height="1" fill="#fff"/>
<rect x="401" y="348" width="1" height="2" fill="#fff"/>
<rect x="404" y="412" width="1" height="2" fill="#fff"/>
<rect x="429" y="363" width="3" height="1" fill="#fff"/>
<rect x="390" y="371" width="2" height="1" fill="#fff"/>
<rect x="404" y="348" width="1" height="2" fill="#fff"/>
<rect x="407" y="412" width="1" height="2" fill="#fff"/>
<rect x="429" y="365" width="3" height="1" fill="#fff"/>
<rect x="390" y="373" width="2" height="1" fill="#fff"/>
<rect x="415" y="348" width="1" height="2" fill="#fff"/>
<rect x="418" y="412" width="1" height="2" fill="#fff"/>
<rect x="429" y="388" width="3" height="1" fill="#fff"/>
<rect x="390" y="396" width="2" height="1" fill="#fff"/>
<rect x="418" y="348" width="1" height="2" fill="#fff"/>
<rect x="421" y="412" width="1" height="2" fill="#fff"/>
<rect x="429" y="391" width="3" height="1" fill="#fff"/>
<rect x="390" y="399" width="2" height="1" fill="#fff"/>
<rect x="421" y="348" width="1" height="2" fill="#fff"/>
<rect x="424" y="412" width="1" height="2" fill="#fff"/>
<rect x="429" y="393" width="3" height="1" fill="#fff"/>
<rect x="390" y="401" width="2" height="1" fill="#fff"/>
<rect x="67" y="307" width="49" height="27" rx="3" fill="#000"/>
<rect x="530" y="339" width="49" height="50" rx="5" fill="#000"/>
<rect x="63.5" y="160.5" width="69" height="7" fill="#fff" stroke="#000" stroke-width="1"/>
<rect x="63" y="167" width="105" height="3" fill="#000"/>
<rect x="56" y="170" width="2" height="93" fill="#000"/>
<rect x="59" y="170" width="12" height="93" fill="#000"/>
<rect x="72" y="170" width="2" height="93" fill="#000"/>
<rect x="61.5" y="208.5" width="8" height="22" fill="#fff" stroke="#000" stroke-width="1"/>
<rect x="62" y="214" width="7" height="1" fill="#000"/>
<rect x="62" y="220" width="7" height="1" fill="#888"/>
<text transform="translate(61.3,234.5) rotate(90) scale(1,0.95)" font-size="11.5" letter-spacing="0.8" fill="#fff">AMP</text>
<rect x="74" y="167" width="94" height="96" fill="#000"/>
<rect x="90.5" y="187" width="58" height="57" fill="#fff"/>
<path d="M75.8,172.6h2.4v2.4h-2.4zM75.8,177.8h2.4v2.4h-2.4zM75.8,183.0h2.4v2.4h-2.4zM75.8,188.2h2.4v2.4h-2.4zM75.8,193.4h2.4v2.4h-2.4zM75.8,198.6h2.4v2.4h-2.4zM75.8,203.8h2.4v2.4h-2.4zM75.8,209.0h2.4v2.4h-2.4zM75.8,214.2h2.4v2.4h-2.4zM75.8,219.4h2.4v2.4h-2.4zM75.8,224.7h2.4v2.4h-2.4zM75.8,229.9h2.4v2.4h-2.4zM75.8,235.1h2.4v2.4h-2.4zM75.8,240.3h2.4v2.4h-2.4zM75.8,245.5h2.4v2.4h-2.4zM75.8,250.7h2.4v2.4h-2.4zM75.8,255.9h2.4v2.4h-2.4zM81.1,172.6h2.4v2.4h-2.4zM81.1,177.8h2.4v2.4h-2.4zM81.1,183.0h2.4v2.4h-2.4zM81.1,188.2h2.4v2.4h-2.4zM81.1,193.4h2.4v2.4h-2.4zM81.1,198.6h2.4v2.4h-2.4zM81.1,203.8h2.4v2.4h-2.4zM81.1,209.0h2.4v2.4h-2.4zM81.1,214.2h2.4v2.4h-2.4zM81.1,219.4h2.4v2.4h-2.4zM81.1,224.7h2.4v2.4h-2.4zM81.1,229.9h2.4v2.4h-2.4zM81.1,235.1h2.4v2.4h-2.4zM81.1,240.3h2.4v2.4h-2.4zM81.1,245.5h2.4v2.4h-2.4zM81.1,250.7h2.4v2.4h-2.4zM81.1,255.9h2.4v2.4h-2.4zM86.5,172.6h2.4v2.4h-2.4zM86.5,177.8h2.4v2.4h-2.4zM86.5,183.0h2.4v2.4h-2.4zM86.5,188.2h2.4v2.4h-2.4zM86.5,193.4h2.4v2.4h-2.4zM86.5,198.6h2.4v2.4h-2.4zM86.5,203.8h2.4v2.4h-2.4zM86.5,209.0h2.4v2.4h-2.4zM86.5,214.2h2.4v2.4h-2.4zM86.5,219.4h2.4v2.4h-2.4zM86.5,224.7h2.4v2.4h-2.4zM86.5,229.9h2.4v2.4h-2.4zM86.5,235.1h2.4v2.4h-2.4zM86.5,240.3h2.4v2.4h-2.4zM86.5,245.5h2.4v2.4h-2.4zM86.5,250.7h2.4v2.4h-2.4zM86.5,255.9h2.4v2.4h-2.4zM91.8,172.6h2.4v2.4h-2.4zM91.8,177.8h2.4v2.4h-2.4zM91.8,183.0h2.4v2.4h-2.4zM91.8,245.5h2.4v2.4h-2.4zM91.8,250.7h2.4v2.4h-2.4zM91.8,255.9h2.4v2.4h-2.4zM97.2,172.6h2.4v2.4h-2.4zM97.2,177.8h2.4v2.4h-2.4zM97.2,183.0h2.4v2.4h-2.4zM97.2,245.5h2.4v2.4h-2.4zM97.2,250.7h2.4v2.4h-2.4zM97.2,255.9h2.4v2.4h-2.4zM102.5,172.6h2.4v2.4h-2.4zM102.5,177.8h2.4v2.4h-2.4zM102.5,183.0h2.4v2.4h-2.4zM102.5,245.5h2.4v2.4h-2.4zM102.5,250.7h2.4v2.4h-2.4zM102.5,255.9h2.4v2.4h-2.4zM107.9,172.6h2.4v2.4h-2.4zM107.9,177.8h2.4v2.4h-2.4zM107.9,183.0h2.4v2.4h-2.4zM107.9,245.5h2.4v2.4h-2.4zM107.9,250.7h2.4v2.4h-2.4zM107.9,255.9h2.4v2.4h-2.4zM113.2,172.6h2.4v2.4h-2.4zM113.2,177.8h2.4v2.4h-2.4zM113.2,183.0h2.4v2.4h-2.4zM113.2,245.5h2.4v2.4h-2.4zM113.2,250.7h2.4v2.4h-2.4zM113.2,255.9h2.4v2.4h-2.4zM118.6,172.6h2.4v2.4h-2.4zM118.6,177.8h2.4v2.4h-2.4zM118.6,183.0h2.4v2.4h-2.4zM118.6,245.5h2.4v2.4h-2.4zM118.6,250.7h2.4v2.4h-2.4zM118.6,255.9h2.4v2.4h-2.4zM124.0,172.6h2.4v2.4h-2.4zM124.0,177.8h2.4v2.4h-2.4zM124.0,183.0h2.4v2.4h-2.4zM124.0,245.5h2.4v2.4h-2.4zM124.0,250.7h2.4v2.4h-2.4zM124.0,255.9h2.4v2.4h-2.4zM129.3,172.6h2.4v2.4h-2.4zM129.3,177.8h2.4v2.4h-2.4zM129.3,183.0h2.4v2.4h-2.4zM129.3,245.5h2.4v2.4h-2.4zM129.3,250.7h2.4v2.4h-2.4zM129.3,255.9h2.4v2.4h-2.4zM134.7,172.6h2.4v2.4h-2.4zM134.7,177.8h2.4v2.4h-2.4zM134.7,183.0h2.4v2.4h-2.4zM134.7,245.5h2.4v2.4h-2.4zM134.7,250.7h2.4v2.4h-2.4zM134.7,255.9h2.4v2.4h-2.4zM140.0,172.6h2.4v2.4h-2.4zM140.0,177.8h2.4v2.4h-2.4zM140.0,183.0h2.4v2.4h-2.4zM140.0,245.5h2.4v2.4h-2.4zM140.0,250.7h2.4v2.4h-2.4zM140.0,255.9h2.4v2.4h-2.4zM145.4,172.6h2.4v2.4h-2.4zM145.4,177.8h2.4v2.4h-2.4zM145.4,183.0h2.4v2.4h-2.4zM145.4,245.5h2.4v2.4h-2.4zM145.4,250.7h2.4v2.4h-2.4zM145.4,255.9h2.4v2.4h-2.4zM150.7,172.6h2.4v2.4h-2.4zM150.7,177.8h2.4v2.4h-2.4zM150.7,183.0h2.4v2.4h-2.4zM150.7,188.2h2.4v2.4h-2.4zM150.7,193.4h2.4v2.4h-2.4zM150.7,198.6h2.4v2.4h-2.4zM150.7,203.8h2.4v2.4h-2.4zM150.7,209.0h2.4v2.4h-2.4zM150.7,214.2h2.4v2.4h-2.4zM150.7,219.4h2.4v2.4h-2.4zM150.7,224.7h2.4v2.4h-2.4zM150.7,229.9h2.4v2.4h-2.4zM150.7,235.1h2.4v2.4h-2.4zM150.7,240.3h2.4v2.4h-2.4zM150.7,245.5h2.4v2.4h-2.4zM150.7,250.7h2.4v2.4h-2.4zM150.7,255.9h2.4v2.4h-2.4zM156.1,172.6h2.4v2.4h-2.4zM156.1,177.8h2.4v2.4h-2.4zM156.1,183.0h2.4v2.4h-2.4zM156.1,188.2h2.4v2.4h-2.4zM156.1,193.4h2.4v2.4h-2.4zM156.1,198.6h2.4v2.4h-2.4zM156.1,203.8h2.4v2.4h-2.4zM156.1,209.0h2.4v2.4h-2.4zM156.1,214.2h2.4v2.4h-2.4zM156.1,219.4h2.4v2.4h-2.4zM156.1,224.7h2.4v2.4h-2.4zM156.1,229.9h2.4v2.4h-2.4zM156.1,235.1h2.4v2.4h-2.4zM156.1,240.3h2.4v2.4h-2.4zM156.1,245.5h2.4v2.4h-2.4zM156.1,250.7h2.4v2.4h-2.4zM156.1,255.9h2.4v2.4h-2.4zM161.4,172.6h2.4v2.4h-2.4zM161.4,177.8h2.4v2.4h-2.4zM161.4,183.0h2.4v2.4h-2.4zM161.4,188.2h2.4v2.4h-2.4zM161.4,193.4h2.4v2.4h-2.4zM161.4,198.6h2.4v2.4h-2.4zM161.4,203.8h2.4v2.4h-2.4zM161.4,209.0h2.4v2.4h-2.4zM161.4,214.2h2.4v2.4h-2.4zM161.4,219.4h2.4v2.4h-2.4zM161.4,224.7h2.4v2.4h-2.4zM161.4,229.9h2.4v2.4h-2.4zM161.4,235.1h2.4v2.4h-2.4zM161.4,240.3h2.4v2.4h-2.4zM161.4,245.5h2.4v2.4h-2.4zM161.4,250.7h2.4v2.4h-2.4zM161.4,255.9h2.4v2.4h-2.4z" fill="#fff" shape-rendering="geometricPrecision"/>
<rect x="69" y="263" width="21" height="4" fill="#000"/>
<rect x="141" y="263" width="21" height="4" fill="#000"/>
<rect x="34" y="426" width="85" height="25" fill="#000"/>
<rect x="37" y="428" width="3" height="5" fill="#fff"/>
<rect x="37" y="444" width="3" height="5" fill="#fff"/>
<rect x="43" y="428" width="3" height="5" fill="#fff"/>
<rect x="43" y="444" width="3" height="5" fill="#fff"/>
<rect x="49" y="428" width="3" height="5" fill="#fff"/>
<rect x="49" y="444" width="3" height="5" fill="#fff"/>
<rect x="55" y="428" width="3" height="5" fill="#fff"/>
<rect x="55" y="444" width="3" height="5" fill="#fff"/>
<rect x="60" y="428" width="3" height="5" fill="#fff"/>
<rect x="60" y="444" width="3" height="5" fill="#fff"/>
<rect x="66" y="428" width="3" height="5" fill="#fff"/>
<rect x="66" y="444" width="3" height="5" fill="#fff"/>
<rect x="72" y="428" width="3" height="5" fill="#fff"/>
<rect x="72" y="444" width="3" height="5" fill="#fff"/>
<rect x="78" y="428" width="3" height="5" fill="#fff"/>
<rect x="78" y="444" width="3" height="5" fill="#fff"/>
<rect x="83" y="428" width="3" height="5" fill="#fff"/>
<rect x="83" y="444" width="3" height="5" fill="#fff"/>
<rect x="89" y="428" width="3" height="5" fill="#fff"/>
<rect x="89" y="444" width="3" height="5" fill="#fff"/>
<rect x="95" y="428" width="3" height="5" fill="#fff"/>
<rect x="95" y="444" width="3" height="5" fill="#fff"/>
<rect x="101" y="428" width="3" height="5" fill="#fff"/>
<rect x="101" y="444" width="3" height="5" fill="#fff"/>
<rect x="107" y="428" width="3" height="5" fill="#fff"/>
<rect x="107" y="444" width="3" height="5" fill="#fff"/>
<rect x="112" y="428" width="3" height="5" fill="#fff"/>
<rect x="112" y="444" width="3" height="5" fill="#fff"/>
<rect x="40" y="436" width="71.5" height="6" fill="#fff"/>
<rect x="72" y="436" width="5" height="6" fill="#000"/>
<polygon points="119,436 116,437 115.5,439.0 116,441 119,442" fill="#fff"/>
<rect x="34" y="452" width="85" height="25" fill="#000"/>
<rect x="37" y="454" width="3" height="5" fill="#fff"/>
<rect x="37" y="470" width="3" height="5" fill="#fff"/>
<rect x="43" y="454" width="3" height="5" fill="#fff"/>
<rect x="43" y="470" width="3" height="5" fill="#fff"/>
<rect x="49" y="454" width="3" height="5" fill="#fff"/>
<rect x="49" y="470" width="3" height="5" fill="#fff"/>
<rect x="55" y="454" width="3" height="5" fill="#fff"/>
<rect x="55" y="470" width="3" height="5" fill="#fff"/>
<rect x="60" y="454" width="3" height="5" fill="#fff"/>
<rect x="60" y="470" width="3" height="5" fill="#fff"/>
<rect x="66" y="454" width="3" height="5" fill="#fff"/>
<rect x="66" y="470" width="3" height="5" fill="#fff"/>
<rect x="72" y="454" width="3" height="5" fill="#fff"/>
<rect x="72" y="470" width="3" height="5" fill="#fff"/>
<rect x="78" y="454" width="3" height="5" fill="#fff"/>
<rect x="78" y="470" width="3" height="5" fill="#fff"/>
<rect x="83" y="454" width="3" height="5" fill="#fff"/>
<rect x="83" y="470" width="3" height="5" fill="#fff"/>
<rect x="89" y="454" width="3" height="5" fill="#fff"/>
<rect x="89" y="470" width="3" height="5" fill="#fff"/>
<rect x="95" y="454" width="3" height="5" fill="#fff"/>
<rect x="95" y="470" width="3" height="5" fill="#fff"/>
<rect x="101" y="454" width="3" height="5" fill="#fff"/>
<rect x="101" y="470" width="3" height="5" fill="#fff"/>
<rect x="107" y="454" width="3" height="5" fill="#fff"/>
<rect x="107" y="470" width="3" height="5" fill="#fff"/>
<rect x="112" y="454" width="3" height="5" fill="#fff"/>
<rect x="112" y="470" width="3" height="5" fill="#fff"/>
<rect x="40" y="462" width="71.5" height="6" fill="#fff"/>
<rect x="72" y="462" width="5" height="6" fill="#000"/>
<polygon points="119,462 116,463 115.5,465.0 116,467 119,468" fill="#fff"/>
<rect x="34" y="478" width="85" height="25" fill="#000"/>
<rect x="37" y="480" width="3" height="5" fill="#fff"/>
<rect x="37" y="496" width="3" height="5" fill="#fff"/>
<rect x="43" y="480" width="3" height="5" fill="#fff"/>
<rect x="43" y="496" width="3" height="5" fill="#fff"/>
<rect x="49" y="480" width="3" height="5" fill="#fff"/>
<rect x="49" y="496" width="3" height="5" fill="#fff"/>
<rect x="55" y="480" width="3" height="5" fill="#fff"/>
<rect x="55" y="496" width="3" height="5" fill="#fff"/>
<rect x="60" y="480" width="3" height="5" fill="#fff"/>
<rect x="60" y="496" width="3" height="5" fill="#fff"/>
<rect x="66" y="480" width="3" height="5" fill="#fff"/>
<rect x="66" y="496" width="3" height="5" fill="#fff"/>
<rect x="72" y="480" width="3" height="5" fill="#fff"/>
<rect x="72" y="496" width="3" height="5" fill="#fff"/>
<rect x="78" y="480" width="3" height="5" fill="#fff"/>
<rect x="78" y="496" width="3" height="5" fill="#fff"/>
<rect x="83" y="480" width="3" height="5" fill="#fff"/>
<rect x="83" y="496" width="3" height="5" fill="#fff"/>
<rect x="89" y="480" width="3" height="5" fill="#fff"/>
<rect x="89" y="496" width="3" height="5" fill="#fff"/>
<rect x="95" y="480" width="3" height="5" fill="#fff"/>
<rect x="95" y="496" width="3" height="5" fill="#fff"/>
<rect x="101" y="480" width="3" height="5" fill="#fff"/>
<rect x="101" y="496" width="3" height="5" fill="#fff"/>
<rect x="107" y="480" width="3" height="5" fill="#fff"/>
<rect x="107" y="496" width="3" height="5" fill="#fff"/>
<rect x="112" y="480" width="3" height="5" fill="#fff"/>
<rect x="112" y="496" width="3" height="5" fill="#fff"/>
<rect x="40" y="488" width="71.5" height="6" fill="#fff"/>
<rect x="72" y="488" width="5" height="6" fill="#000"/>
<polygon points="119,488 116,489 115.5,491.0 116,493 119,494" fill="#fff"/>
<rect x="34" y="504" width="85" height="25" fill="#000"/>
<rect x="37" y="506" width="3" height="5" fill="#fff"/>
<rect x="37" y="522" width="3" height="5" fill="#fff"/>
<rect x="43" y="506" width="3" height="5" fill="#fff"/>
<rect x="43" y="522" width="3" height="5" fill="#fff"/>
<rect x="49" y="506" width="3" height="5" fill="#fff"/>
<rect x="49" y="522" width="3" height="5" fill="#fff"/>
<rect x="55" y="506" width="3" height="5" fill="#fff"/>
<rect x="55" y="522" width="3" height="5" fill="#fff"/>
<rect x="60" y="506" width="3" height="5" fill="#fff"/>
<rect x="60" y="522" width="3" height="5" fill="#fff"/>
<rect x="66" y="506" width="3" height="5" fill="#fff"/>
<rect x="66" y="522" width="3" height="5" fill="#fff"/>
<rect x="72" y="506" width="3" height="5" fill="#fff"/>
<rect x="72" y="522" width="3" height="5" fill="#fff"/>
<rect x="78" y="506" width="3" height="5" fill="#fff"/>
<rect x="78" y="522" width="3" height="5" fill="#fff"/>
<rect x="83" y="506" width="3" height="5" fill="#fff"/>
<rect x="83" y="522" width="3" height="5" fill="#fff"/>
<rect x="89" y="506" width="3" height="5" fill="#fff"/>
<rect x="89" y="522" width="3" height="5" fill="#fff"/>
<rect x="95" y="506" width="3" height="5" fill="#fff"/>
<rect x="95" y="522" width="3" height="5" fill="#fff"/>
<rect x="101" y="506" width="3" height="5" fill="#fff"/>
<rect x="101" y="522" width="3" height="5" fill="#fff"/>
<rect x="107" y="506" width="3" height="5" fill="#fff"/>
<rect x="107" y="522" width="3" height="5" fill="#fff"/>
<rect x="112" y="506" width="3" height="5" fill="#fff"/>
<rect x="112" y="522" width="3" height="5" fill="#fff"/>
<rect x="40" y="514" width="71.5" height="6" fill="#fff"/>
<rect x="72" y="514" width="5" height="6" fill="#000"/>
<polygon points="119,514 116,515 115.5,517.0 116,519 119,520" fill="#fff"/>
<rect x="126" y="426" width="85" height="25" fill="#000"/>
<rect x="129" y="428" width="3" height="5" fill="#fff"/>
<rect x="129" y="444" width="3" height="5" fill="#fff"/>
<rect x="135" y="428" width="3" height="5" fill="#fff"/>
<rect x="135" y="444" width="3" height="5" fill="#fff"/>
<rect x="141" y="428" width="3" height="5" fill="#fff"/>
<rect x="141" y="444" width="3" height="5" fill="#fff"/>
<rect x="147" y="428" width="3" height="5" fill="#fff"/>
<rect x="147" y="444" width="3" height="5" fill="#fff"/>
<rect x="152" y="428" width="3" height="5" fill="#fff"/>
<rect x="152" y="444" width="3" height="5" fill="#fff"/>
<rect x="158" y="428" width="3" height="5" fill="#fff"/>
<rect x="158" y="444" width="3" height="5" fill="#fff"/>
<rect x="164" y="428" width="3" height="5" fill="#fff"/>
<rect x="164" y="444" width="3" height="5" fill="#fff"/>
<rect x="170" y="428" width="3" height="5" fill="#fff"/>
<rect x="170" y="444" width="3" height="5" fill="#fff"/>
<rect x="175" y="428" width="3" height="5" fill="#fff"/>
<rect x="175" y="444" width="3" height="5" fill="#fff"/>
<rect x="181" y="428" width="3" height="5" fill="#fff"/>
<rect x="181" y="444" width="3" height="5" fill="#fff"/>
<rect x="187" y="428" width="3" height="5" fill="#fff"/>
<rect x="187" y="444" width="3" height="5" fill="#fff"/>
<rect x="193" y="428" width="3" height="5" fill="#fff"/>
<rect x="193" y="444" width="3" height="5" fill="#fff"/>
<rect x="199" y="428" width="3" height="5" fill="#fff"/>
<rect x="199" y="444" width="3" height="5" fill="#fff"/>
<rect x="204" y="428" width="3" height="5" fill="#fff"/>
<rect x="204" y="444" width="3" height="5" fill="#fff"/>
<rect x="132" y="436" width="71.5" height="6" fill="#fff"/>
<rect x="164" y="436" width="5" height="6" fill="#000"/>
<polygon points="211,436 208,437 207.5,439.0 208,441 211,442" fill="#fff"/>
<rect x="126" y="452" width="85" height="25" fill="#000"/>
<rect x="129" y="454" width="3" height="5" fill="#fff"/>
<rect x="129" y="470" width="3" height="5" fill="#fff"/>
<rect x="135" y="454" width="3" height="5" fill="#fff"/>
<rect x="135" y="470" width="3" height="5" fill="#fff"/>
<rect x="141" y="454" width="3" height="5" fill="#fff"/>
<rect x="141" y="470" width="3" height="5" fill="#fff"/>
<rect x="147" y="454" width="3" height="5" fill="#fff"/>
<rect x="147" y="470" width="3" height="5" fill="#fff"/>
<rect x="152" y="454" width="3" height="5" fill="#fff"/>
<rect x="152" y="470" width="3" height="5" fill="#fff"/>
<rect x="158" y="454" width="3" height="5" fill="#fff"/>
<rect x="158" y="470" width="3" height="5" fill="#fff"/>
<rect x="164" y="454" width="3" height="5" fill="#fff"/>
<rect x="164" y="470" width="3" height="5" fill="#fff"/>
<rect x="170" y="454" width="3" height="5" fill="#fff"/>
<rect x="170" y="470" width="3" height="5" fill="#fff"/>
<rect x="175" y="454" width="3" height="5" fill="#fff"/>
<rect x="175" y="470" width="3" height="5" fill="#fff"/>
<rect x="181" y="454" width="3" height="5" fill="#fff"/>
<rect x="181" y="470" width="3" height="5" fill="#fff"/>
<rect x="187" y="454" width="3" height="5" fill="#fff"/>
<rect x="187" y="470" width="3" height="5" fill="#fff"/>
<rect x="193" y="454" width="3" height="5" fill="#fff"/>
<rect x="193" y="470" width="3" height="5" fill="#fff"/>
<rect x="199" y="454" width="3" height="5" fill="#fff"/>
<rect x="199" y="470" width="3" height="5" fill="#fff"/>
<rect x="204" y="454" width="3" height="5" fill="#fff"/>
<rect x="204" y="470" width="3" height="5" fill="#fff"/>
<rect x="132" y="462" width="71.5" height="6" fill="#fff"/>
<rect x="164" y="462" width="5" height="6" fill="#000"/>
<polygon points="211,462 208,463 207.5,465.0 208,467 211,468" fill="#fff"/>
<rect x="126" y="478" width="85" height="25" fill="#000"/>
<rect x="129" y="480" width="3" height="5" fill="#fff"/>
<rect x="129" y="496" width="3" height="5" fill="#fff"/>
<rect x="135" y="480" width="3" height="5" fill="#fff"/>
<rect x="135" y="496" width="3" height="5" fill="#fff"/>
<rect x="141" y="480" width="3" height="5" fill="#fff"/>
<rect x="141" y="496" width="3" height="5" fill="#fff"/>
<rect x="147" y="480" width="3" height="5" fill="#fff"/>
<rect x="147" y="496" width="3" height="5" fill="#fff"/>
<rect x="152" y="480" width="3" height="5" fill="#fff"/>
<rect x="152" y="496" width="3" height="5" fill="#fff"/>
<rect x="158" y="480" width="3" height="5" fill="#fff"/>
<rect x="158" y="496" width="3" height="5" fill="#fff"/>
<rect x="164" y="480" width="3" height="5" fill="#fff"/>
<rect x="164" y="496" width="3" height="5" fill="#fff"/>
<rect x="170" y="480" width="3" height="5" fill="#fff"/>
<rect x="170" y="496" width="3" height="5" fill="#fff"/>
<rect x="175" y="480" width="3" height="5" fill="#fff"/>
<rect x="175" y="496" width="3" height="5" fill="#fff"/>
<rect x="181" y="480" width="3" height="5" fill="#fff"/>
<rect x="181" y="496" width="3" height="5" fill="#fff"/>
<rect x="187" y="480" width="3" height="5" fill="#fff"/>
<rect x="187" y="496" width="3" height="5" fill="#fff"/>
<rect x="193" y="480" width="3" height="5" fill="#fff"/>
<rect x="193" y="496" width="3" height="5" fill="#fff"/>
<rect x="199" y="480" width="3" height="5" fill="#fff"/>
<rect x="199" y="496" width="3" height="5" fill="#fff"/>
<rect x="204" y="480" width="3" height="5" fill="#fff"/>
<rect x="204" y="496" width="3" height="5" fill="#fff"/>
<rect x="132" y="488" width="71.5" height="6" fill="#fff"/>
<rect x="164" y="488" width="5" height="6" fill="#000"/>
<polygon points="211,488 208,489 207.5,491.0 208,493 211,494" fill="#fff"/>
<rect x="126" y="504" width="85" height="25" fill="#000"/>
<rect x="129" y="506" width="3" height="5" fill="#fff"/>
<rect x="129" y="522" width="3" height="5" fill="#fff"/>
<rect x="135" y="506" width="3" height="5" fill="#fff"/>
<rect x="135" y="522" width="3" height="5" fill="#fff"/>
<rect x="141" y="506" width="3" height="5" fill="#fff"/>
<rect x="141" y="522" width="3" height="5" fill="#fff"/>
<rect x="147" y="506" width="3" height="5" fill="#fff"/>
<rect x="147" y="522" width="3" height="5" fill="#fff"/>
<rect x="152" y="506" width="3" height="5" fill="#fff"/>
<rect x="152" y="522" width="3" height="5" fill="#fff"/>
<rect x="158" y="506" width="3" height="5" fill="#fff"/>
<rect x="158" y="522" width="3" height="5" fill="#fff"/>
<rect x="164" y="506" width="3" height="5" fill="#fff"/>
<rect x="164" y="522" width="3" height="5" fill="#fff"/>
<rect x="170" y="506" width="3" height="5" fill="#fff"/>
<rect x="170" y="522" width="3" height="5" fill="#fff"/>
<rect x="175" y="506" width="3" height="5" fill="#fff"/>
<rect x="175" y="522" width="3" height="5" fill="#fff"/>
<rect x="181" y="506" width="3" height="5" fill="#fff"/>
<rect x="181" y="522" width="3" height="5" fill="#fff"/>
<rect x="187" y="506" width="3" height="5" fill="#fff"/>
<rect x="187" y="522" width="3" height="5" fill="#fff"/>
<rect x="193" y="506" width="3" height="5" fill="#fff"/>
<rect x="193" y="522" width="3" height="5" fill="#fff"/>
<rect x="199" y="506" width="3" height="5" fill="#fff"/>
<rect x="199" y="522" width="3" height="5" fill="#fff"/>
<rect x="204" y="506" width="3" height="5" fill="#fff"/>
<rect x="204" y="522" width="3" height="5" fill="#fff"/>
<rect x="132" y="514" width="71.5" height="6" fill="#fff"/>
<rect x="164" y="514" width="5" height="6" fill="#000"/>
<polygon points="211,514 208,515 207.5,517.0 208,519 211,520" fill="#fff"/>
<rect x="294" y="275" width="85" height="24" fill="#000"/>
<rect x="297" y="277" width="3" height="4" fill="#fff"/>
<rect x="297" y="293" width="3" height="4" fill="#fff"/>
<rect x="302" y="277" width="3" height="4" fill="#fff"/>
<rect x="302" y="293" width="3" height="4" fill="#fff"/>
<rect x="307" y="277" width="3" height="4" fill="#fff"/>
<rect x="307" y="293" width="3" height="4" fill="#fff"/>
<rect x="312" y="277" width="3" height="4" fill="#fff"/>
<rect x="312" y="293" width="3" height="4" fill="#fff"/>
<rect x="317" y="277" width="3" height="4" fill="#fff"/>
<rect x="317" y="293" width="3" height="4" fill="#fff"/>
<rect x="322" y="277" width="3" height="4" fill="#fff"/>
<rect x="322" y="293" width="3" height="4" fill="#fff"/>
<rect x="327" y="277" width="3" height="4" fill="#fff"/>
<rect x="327" y="293" width="3" height="4" fill="#fff"/>
<rect x="332" y="277" width="3" height="4" fill="#fff"/>
<rect x="332" y="293" width="3" height="4" fill="#fff"/>
<rect x="337" y="277" width="3" height="4" fill="#fff"/>
<rect x="337" y="293" width="3" height="4" fill="#fff"/>
<rect x="342" y="277" width="3" height="4" fill="#fff"/>
<rect x="342" y="293" width="3" height="4" fill="#fff"/>
<rect x="347" y="277" width="3" height="4" fill="#fff"/>
<rect x="347" y="293" width="3" height="4" fill="#fff"/>
<rect x="352" y="277" width="3" height="4" fill="#fff"/>
<rect x="352" y="293" width="3" height="4" fill="#fff"/>
<rect x="357" y="277" width="3" height="4" fill="#fff"/>
<rect x="357" y="293" width="3" height="4" fill="#fff"/>
<rect x="363" y="277" width="3" height="4" fill="#fff"/>
<rect x="363" y="293" width="3" height="4" fill="#fff"/>
<rect x="368" y="277" width="3" height="4" fill="#fff"/>
<rect x="368" y="293" width="3" height="4" fill="#fff"/>
<rect x="373" y="277" width="3" height="4" fill="#fff"/>
<rect x="373" y="293" width="3" height="4" fill="#fff"/>
<rect x="300" y="284" width="71.5" height="5" fill="#fff"/>
<polygon points="379,284 376,285 375.5,286.5 376,288 379,289" fill="#fff"/>
<rect x="320" y="277" width="33" height="20" fill="#000"/>
<rect x="323" y="278" width="3.5" height="1" fill="#fff"/>
<rect x="323" y="296" width="3.5" height="1" fill="#fff"/>
<rect x="328.5" y="278" width="3.5" height="1" fill="#fff"/>
<rect x="328.5" y="296" width="3.5" height="1" fill="#fff"/>
<rect x="334.0" y="278" width="3.5" height="1" fill="#fff"/>
<rect x="334.0" y="296" width="3.5" height="1" fill="#fff"/>
<rect x="339.5" y="278" width="3.5" height="1" fill="#fff"/>
<rect x="339.5" y="296" width="3.5" height="1" fill="#fff"/>
<rect x="345.0" y="278" width="3.5" height="1" fill="#fff"/>
<rect x="345.0" y="296" width="3.5" height="1" fill="#fff"/>
<polyline points="476.5,252 480.5,244.5 539,244.5 543,239 547,244.5 602.5,244.5 607,251" fill="none" stroke="#000" stroke-width="1"/>
<rect x="479" y="249" width="60" height="25" fill="#000"/>
<rect x="482" y="251" width="3" height="4" fill="#fff"/>
<rect x="482" y="268" width="3" height="4" fill="#fff"/>
<rect x="487" y="251" width="3" height="4" fill="#fff"/>
<rect x="487" y="268" width="3" height="4" fill="#fff"/>
<rect x="492" y="251" width="3" height="4" fill="#fff"/>
<rect x="492" y="268" width="3" height="4" fill="#fff"/>
<rect x="497" y="251" width="3" height="4" fill="#fff"/>
<rect x="497" y="268" width="3" height="4" fill="#fff"/>
<rect x="502" y="251" width="3" height="4" fill="#fff"/>
<rect x="502" y="268" width="3" height="4" fill="#fff"/>
<rect x="508" y="251" width="3" height="4" fill="#fff"/>
<rect x="508" y="268" width="3" height="4" fill="#fff"/>
<rect x="513" y="251" width="3" height="4" fill="#fff"/>
<rect x="513" y="268" width="3" height="4" fill="#fff"/>
<rect x="518" y="251" width="3" height="4" fill="#fff"/>
<rect x="518" y="268" width="3" height="4" fill="#fff"/>
<rect x="523" y="251" width="3" height="4" fill="#fff"/>
<rect x="523" y="268" width="3" height="4" fill="#fff"/>
<rect x="528" y="251" width="3" height="4" fill="#fff"/>
<rect x="528" y="268" width="3" height="4" fill="#fff"/>
<rect x="533" y="251" width="3" height="4" fill="#fff"/>
<rect x="533" y="268" width="3" height="4" fill="#fff"/>
<rect x="485" y="258" width="46.5" height="5" fill="#fff"/>
<rect x="506" y="258" width="5" height="5" fill="#000"/>
<polygon points="539,258 536,259 535.5,260.5 536,262 539,263" fill="#fff"/>
<rect x="479" y="273" width="60" height="26" fill="#000"/>
<rect x="482" y="275" width="3" height="4" fill="#fff"/>
<rect x="482" y="293" width="3" height="4" fill="#fff"/>
<rect x="487" y="275" width="3" height="4" fill="#fff"/>
<rect x="487" y="293" width="3" height="4" fill="#fff"/>
<rect x="492" y="275" width="3" height="4" fill="#fff"/>
<rect x="492" y="293" width="3" height="4" fill="#fff"/>
<rect x="497" y="275" width="3" height="4" fill="#fff"/>
<rect x="497" y="293" width="3" height="4" fill="#fff"/>
<rect x="502" y="275" width="3" height="4" fill="#fff"/>
<rect x="502" y="293" width="3" height="4" fill="#fff"/>
<rect x="508" y="275" width="3" height="4" fill="#fff"/>
<rect x="508" y="293" width="3" height="4" fill="#fff"/>
<rect x="513" y="275" width="3" height="4" fill="#fff"/>
<rect x="513" y="293" width="3" height="4" fill="#fff"/>
<rect x="518" y="275" width="3" height="4" fill="#fff"/>
<rect x="518" y="293" width="3" height="4" fill="#fff"/>
<rect x="523" y="275" width="3" height="4" fill="#fff"/>
<rect x="523" y="293" width="3" height="4" fill="#fff"/>
<rect x="528" y="275" width="3" height="4" fill="#fff"/>
<rect x="528" y="293" width="3" height="4" fill="#fff"/>
<rect x="533" y="275" width="3" height="4" fill="#fff"/>
<rect x="533" y="293" width="3" height="4" fill="#fff"/>
<rect x="485" y="283.5" width="46.5" height="5" fill="#fff"/>
<rect x="506" y="283.5" width="5" height="5" fill="#000"/>
<polygon points="539,283.5 536,284.5 535.5,286.0 536,287.5 539,288.5" fill="#fff"/>
<rect x="542" y="250" width="60" height="20" fill="#000"/>
<rect x="546" y="248" width="1.6" height="2" fill="#000"/>
<rect x="546" y="270" width="1.6" height="2" fill="#000"/>
<rect x="549.2" y="248" width="1.6" height="2" fill="#000"/>
<rect x="549.2" y="270" width="1.6" height="2" fill="#000"/>
<rect x="552.4000000000001" y="248" width="1.6" height="2" fill="#000"/>
<rect x="552.4000000000001" y="270" width="1.6" height="2" fill="#000"/>
<rect x="555.6000000000001" y="248" width="1.6" height="2" fill="#000"/>
<rect x="555.6000000000001" y="270" width="1.6" height="2" fill="#000"/>
<rect x="558.8000000000002" y="248" width="1.6" height="2" fill="#000"/>
<rect x="558.8000000000002" y="270" width="1.6" height="2" fill="#000"/>
<rect x="562.0000000000002" y="248" width="1.6" height="2" fill="#000"/>
<rect x="562.0000000000002" y="270" width="1.6" height="2" fill="#000"/>
<rect x="565.2000000000003" y="248" width="1.6" height="2" fill="#000"/>
<rect x="565.2000000000003" y="270" width="1.6" height="2" fill="#000"/>
<rect x="568.4000000000003" y="248" width="1.6" height="2" fill="#000"/>
<rect x="568.4000000000003" y="270" width="1.6" height="2" fill="#000"/>
<rect x="571.6000000000004" y="248" width="1.6" height="2" fill="#000"/>
<rect x="571.6000000000004" y="270" width="1.6" height="2" fill="#000"/>
<rect x="574.8000000000004" y="248" width="1.6" height="2" fill="#000"/>
<rect x="574.8000000000004" y="270" width="1.6" height="2" fill="#000"/>
<rect x="578.0000000000005" y="248" width="1.6" height="2" fill="#000"/>
<rect x="578.0000000000005" y="270" width="1.6" height="2" fill="#000"/>
<rect x="581.2000000000005" y="248" width="1.6" height="2" fill="#000"/>
<rect x="581.2000000000005" y="270" width="1.6" height="2" fill="#000"/>
<rect x="584.4000000000005" y="248" width="1.6" height="2" fill="#000"/>
<rect x="584.4000000000005" y="270" width="1.6" height="2" fill="#000"/>
<rect x="587.6000000000006" y="248" width="1.6" height="2" fill="#000"/>
<rect x="587.6000000000006" y="270" width="1.6" height="2" fill="#000"/>
<rect x="590.8000000000006" y="248" width="1.6" height="2" fill="#000"/>
<rect x="590.8000000000006" y="270" width="1.6" height="2" fill="#000"/>
<rect x="594.0000000000007" y="248" width="1.6" height="2" fill="#000"/>
<rect x="594.0000000000007" y="270" width="1.6" height="2" fill="#000"/>
<rect x="597.2000000000007" y="248" width="1.6" height="2" fill="#000"/>
<rect x="597.2000000000007" y="270" width="1.6" height="2" fill="#000"/>
<rect x="541" y="274" width="61" height="25" fill="#000"/>
<rect x="544" y="277" width="3.5" height="1" fill="#fff"/>
<rect x="544" y="295" width="3.5" height="1" fill="#fff"/>
<rect x="550" y="277" width="3.5" height="1" fill="#fff"/>
<rect x="550" y="295" width="3.5" height="1" fill="#fff"/>
<rect x="556" y="277" width="3.5" height="1" fill="#fff"/>
<rect x="556" y="295" width="3.5" height="1" fill="#fff"/>
<rect x="562" y="277" width="3.5" height="1" fill="#fff"/>
<rect x="562" y="295" width="3.5" height="1" fill="#fff"/>
<rect x="568" y="277" width="3.5" height="1" fill="#fff"/>
<rect x="568" y="295" width="3.5" height="1" fill="#fff"/>
<rect x="574" y="277" width="3.5" height="1" fill="#fff"/>
<rect x="574" y="295" width="3.5" height="1" fill="#fff"/>
<rect x="580" y="277" width="3.5" height="1" fill="#fff"/>
<rect x="580" y="295" width="3.5" height="1" fill="#fff"/>
<rect x="586" y="277" width="3.5" height="1" fill="#fff"/>
<rect x="586" y="295" width="3.5" height="1" fill="#fff"/>
<rect x="592" y="277" width="3.5" height="1" fill="#fff"/>
<rect x="592" y="295" width="3.5" height="1" fill="#fff"/>
<rect x="266" y="307" width="342" height="20" fill="#000"/>
<rect x="279" y="314" width="316" height="6" fill="#fff"/>
<rect x="293" y="343" width="12" height="118" fill="#000"/>
<rect x="294" y="344" width="10" height="1" fill="#fff"/>
<rect x="294" y="350" width="10" height="1" fill="#fff"/>
<rect x="294" y="356" width="10" height="1" fill="#fff"/>
<rect x="294" y="361" width="10" height="1" fill="#fff"/>
<rect x="294" y="367" width="10" height="1" fill="#fff"/>
<rect x="294" y="373" width="10" height="1" fill="#fff"/>
<rect x="294" y="379" width="10" height="1" fill="#fff"/>
<rect x="294" y="385" width="10" height="1" fill="#fff"/>
<rect x="294" y="390" width="10" height="1" fill="#fff"/>
<rect x="294" y="396" width="10" height="1" fill="#fff"/>
<rect x="294" y="402" width="10" height="1" fill="#fff"/>
<rect x="294" y="408" width="10" height="1" fill="#fff"/>
<rect x="294" y="414" width="10" height="1" fill="#fff"/>
<rect x="294" y="419" width="10" height="1" fill="#fff"/>
<rect x="294" y="425" width="10" height="1" fill="#fff"/>
<rect x="294" y="431" width="10" height="1" fill="#fff"/>
<rect x="294" y="437" width="10" height="1" fill="#fff"/>
<rect x="294" y="443" width="10" height="1" fill="#fff"/>
<rect x="294" y="448" width="10" height="1" fill="#fff"/>
<rect x="294" y="454" width="10" height="1" fill="#fff"/>
<rect x="294" y="460" width="10" height="1" fill="#fff"/>
<rect x="298" y="344" width="1" height="116" fill="#fff"/>
<rect x="303" y="344" width="1" height="116" fill="#fff"/>
<rect x="295" y="346" width="2" height="3" fill="#fff"/>
<rect x="314" y="343" width="13" height="118" fill="#000"/>
<rect x="315" y="344" width="11" height="1" fill="#fff"/>
<rect x="315" y="350" width="11" height="1" fill="#fff"/>
<rect x="315" y="356" width="11" height="1" fill="#fff"/>
<rect x="315" y="361" width="11" height="1" fill="#fff"/>
<rect x="315" y="367" width="11" height="1" fill="#fff"/>
<rect x="315" y="373" width="11" height="1" fill="#fff"/>
<rect x="315" y="379" width="11" height="1" fill="#fff"/>
<rect x="315" y="385" width="11" height="1" fill="#fff"/>
<rect x="315" y="390" width="11" height="1" fill="#fff"/>
<rect x="315" y="396" width="11" height="1" fill="#fff"/>
<rect x="315" y="402" width="11" height="1" fill="#fff"/>
<rect x="315" y="408" width="11" height="1" fill="#fff"/>
<rect x="315" y="414" width="11" height="1" fill="#fff"/>
<rect x="315" y="419" width="11" height="1" fill="#fff"/>
<rect x="315" y="425" width="11" height="1" fill="#fff"/>
<rect x="315" y="431" width="11" height="1" fill="#fff"/>
<rect x="315" y="437" width="11" height="1" fill="#fff"/>
<rect x="315" y="443" width="11" height="1" fill="#fff"/>
<rect x="315" y="448" width="11" height="1" fill="#fff"/>
<rect x="315" y="454" width="11" height="1" fill="#fff"/>
<rect x="315" y="460" width="11" height="1" fill="#fff"/>
<rect x="320" y="344" width="1" height="116" fill="#fff"/>
<rect x="325" y="344" width="1" height="116" fill="#fff"/>
<rect x="316" y="346" width="2" height="3" fill="#fff"/>
<rect x="334" y="343" width="13" height="101" fill="#000"/>
<rect x="335" y="344" width="11" height="1" fill="#fff"/>
<rect x="335" y="350" width="11" height="1" fill="#fff"/>
<rect x="335" y="356" width="11" height="1" fill="#fff"/>
<rect x="335" y="361" width="11" height="1" fill="#fff"/>
<rect x="335" y="367" width="11" height="1" fill="#fff"/>
<rect x="335" y="373" width="11" height="1" fill="#fff"/>
<rect x="335" y="379" width="11" height="1" fill="#fff"/>
<rect x="335" y="385" width="11" height="1" fill="#fff"/>
<rect x="335" y="391" width="11" height="1" fill="#fff"/>
<rect x="335" y="396" width="11" height="1" fill="#fff"/>
<rect x="335" y="402" width="11" height="1" fill="#fff"/>
<rect x="335" y="408" width="11" height="1" fill="#fff"/>
<rect x="335" y="414" width="11" height="1" fill="#fff"/>
<rect x="335" y="420" width="11" height="1" fill="#fff"/>
<rect x="335" y="426" width="11" height="1" fill="#fff"/>
<rect x="335" y="431" width="11" height="1" fill="#fff"/>
<rect x="335" y="437" width="11" height="1" fill="#fff"/>
<rect x="335" y="443" width="11" height="1" fill="#fff"/>
<rect x="340" y="344" width="1" height="99" fill="#fff"/>
<rect x="345" y="344" width="1" height="99" fill="#fff"/>
<rect x="336" y="346" width="2" height="3" fill="#fff"/>
<rect x="620" y="67" width="13" height="78" fill="#000"/>
<rect x="621" y="68" width="11" height="1" fill="#fff"/>
<rect x="621" y="74" width="11" height="1" fill="#fff"/>
<rect x="621" y="80" width="11" height="1" fill="#fff"/>
<rect x="621" y="86" width="11" height="1" fill="#fff"/>
<rect x="621" y="91" width="11" height="1" fill="#fff"/>
<rect x="621" y="97" width="11" height="1" fill="#fff"/>
<rect x="621" y="103" width="11" height="1" fill="#fff"/>
<rect x="621" y="109" width="11" height="1" fill="#fff"/>
<rect x="621" y="115" width="11" height="1" fill="#fff"/>
<rect x="621" y="121" width="11" height="1" fill="#fff"/>
<rect x="621" y="126" width="11" height="1" fill="#fff"/>
<rect x="621" y="132" width="11" height="1" fill="#fff"/>
<rect x="621" y="138" width="11" height="1" fill="#fff"/>
<rect x="621" y="144" width="11" height="1" fill="#fff"/>
<rect x="626" y="68" width="1" height="76" fill="#fff"/>
<rect x="631" y="68" width="1" height="76" fill="#fff"/>
<rect x="622" y="70" width="2" height="3" fill="#fff"/>
<rect x="258.5" y="474.5" width="112" height="23" fill="#fff" stroke="#000" stroke-width="1"/>
<rect x="262" y="478" width="6" height="1" fill="#000"/>
<rect x="264" y="479" width="2" height="2" fill="#000"/>
<rect x="261" y="481" width="8" height="1" fill="#000"/>
<rect x="262" y="485" width="6" height="1" fill="#000"/>
<rect x="262.5" y="488.5" width="6" height="7" fill="#fff" stroke="#000" stroke-width="1"/>
<rect x="271" y="478" width="6" height="1" fill="#000"/>
<rect x="273" y="479" width="2" height="2" fill="#000"/>
<rect x="270" y="481" width="8" height="1" fill="#000"/>
<rect x="271" y="485" width="6" height="1" fill="#000"/>
<rect x="271.5" y="488.5" width="6" height="7" fill="#fff" stroke="#000" stroke-width="1"/>
<rect x="280" y="478" width="6" height="1" fill="#000"/>
<rect x="282" y="479" width="2" height="2" fill="#000"/>
<rect x="279" y="481" width="8" height="1" fill="#000"/>
<rect x="280" y="485" width="6" height="1" fill="#000"/>
<rect x="280.5" y="488.5" width="6" height="7" fill="#fff" stroke="#000" stroke-width="1"/>
<rect x="289" y="478" width="6" height="1" fill="#000"/>
<rect x="291" y="479" width="2" height="2" fill="#000"/>
<rect x="288" y="481" width="8" height="1" fill="#000"/>
<rect x="289" y="485" width="6" height="1" fill="#000"/>
<rect x="289.5" y="488.5" width="6" height="7" fill="#fff" stroke="#000" stroke-width="1"/>
<rect x="298" y="478" width="6" height="1" fill="#000"/>
<rect x="300" y="479" width="2" height="2" fill="#000"/>
<rect x="297" y="481" width="8" height="1" fill="#000"/>
<rect x="298" y="485" width="6" height="1" fill="#000"/>
<rect x="298.5" y="488.5" width="6" height="7" fill="#fff" stroke="#000" stroke-width="1"/>
<rect x="307" y="478" width="6" height="1" fill="#000"/>
<rect x="309" y="479" width="2" height="2" fill="#000"/>
<rect x="306" y="481" width="8" height="1" fill="#000"/>
<rect x="307" y="485" width="6" height="1" fill="#000"/>
<rect x="307.5" y="488.5" width="6" height="7" fill="#fff" stroke="#000" stroke-width="1"/>
<rect x="316" y="478" width="6" height="1" fill="#000"/>
<rect x="318" y="479" width="2" height="2" fill="#000"/>
<rect x="315" y="481" width="8" height="1" fill="#000"/>
<rect x="316" y="485" width="6" height="1" fill="#000"/>
<rect x="316.5" y="488.5" width="6" height="7" fill="#fff" stroke="#000" stroke-width="1"/>
<rect x="325" y="478" width="6" height="1" fill="#000"/>
<rect x="327" y="479" width="2" height="2" fill="#000"/>
<rect x="324" y="481" width="8" height="1" fill="#000"/>
<rect x="325" y="485" width="6" height="1" fill="#000"/>
<rect x="325.5" y="488.5" width="6" height="7" fill="#fff" stroke="#000" stroke-width="1"/>
<rect x="334" y="478" width="6" height="1" fill="#000"/>
<rect x="336" y="479" width="2" height="2" fill="#000"/>
<rect x="333" y="481" width="8" height="1" fill="#000"/>
<rect x="334" y="485" width="6" height="1" fill="#000"/>
<rect x="334.5" y="488.5" width="6" height="7" fill="#fff" stroke="#000" stroke-width="1"/>
<rect x="343" y="478" width="6" height="1" fill="#000"/>
<rect x="345" y="479" width="2" height="2" fill="#000"/>
<rect x="342" y="481" width="8" height="1" fill="#000"/>
<rect x="343" y="485" width="6" height="1" fill="#000"/>
<rect x="343.5" y="488.5" width="6" height="7" fill="#fff" stroke="#000" stroke-width="1"/>
<rect x="352" y="478" width="6" height="1" fill="#000"/>
<rect x="354" y="479" width="2" height="2" fill="#000"/>
<rect x="351" y="481" width="8" height="1" fill="#000"/>
<rect x="352" y="485" width="6" height="1" fill="#000"/>
<rect x="352.5" y="488.5" width="6" height="7" fill="#fff" stroke="#000" stroke-width="1"/>
<rect x="361" y="478" width="6" height="1" fill="#000"/>
<rect x="363" y="479" width="2" height="2" fill="#000"/>
<rect x="360" y="481" width="8" height="1" fill="#000"/>
<rect x="361" y="485" width="6" height="1" fill="#000"/>
<rect x="361.5" y="488.5" width="6" height="7" fill="#fff" stroke="#000" stroke-width="1"/>
<rect x="258" y="486" width="2" height="5" fill="#000"/>
<rect x="369" y="486" width="2" height="5" fill="#000"/>
<circle cx="412.5" cy="487" r="23" fill="#fff" stroke="#000" stroke-width="1.25" shape-rendering="auto"/>
<rect x="405" y="449" width="16" height="17" fill="#000"/>
<rect x="410" y="449" width="5" height="52" fill="#000"/>
<rect x="411" y="450" width="3" height="50" fill="#fff"/>
<rect x="411" y="501" width="3" height="1" fill="#000"/>
<rect x="411" y="492" width="3" height="1" fill="#000"/>
<rect x="410.5" y="496" width="4" height="6.5" rx="2" fill="#fff" stroke="#000" stroke-width="1" shape-rendering="geometricPrecision"/>
<rect x="411" y="493" width="3" height="5" fill="#fff"/>
<rect x="458" y="471" width="89" height="42" fill="#000"/>
<rect x="601" y="388" width="43" height="126" fill="#000"/>
<rect x="413.5" y="531.5" width="176" height="16" fill="#fff" stroke="#000" stroke-width="1"/>
<rect x="413" y="547" width="177" height="1" fill="#000"/>
<rect x="693.5" y="44.5" width="18" height="5" fill="#fff" stroke="#000" stroke-width="1"/>
<rect x="695" y="41" width="7" height="12" fill="#000"/>
<rect x="667" y="52" width="35" height="44" fill="#000"/>
<rect x="693.5" y="98.5" width="18" height="5" fill="#fff" stroke="#000" stroke-width="1"/>
<rect x="695" y="96" width="7" height="13" fill="#000"/>
<rect x="701" y="53" width="17" height="1" fill="#000"/>
<rect x="701" y="92" width="17" height="1" fill="#000"/>
<path d="M702,66.5 H706 a3,3 0 0 1 3,3 V81 a3,3 0 0 1 -3,3 H702" fill="none" stroke="#000" stroke-width="1" shape-rendering="auto"/>
<rect x="691.5" y="115.5" width="17" height="5" fill="#fff" stroke="#000" stroke-width="1"/>
<rect x="697" y="113" width="4" height="12" fill="#000"/>
<rect x="672" y="124" width="29" height="91" fill="#000"/>
<path d="M702.5,124.5 H715.5 V209 a4,4 0 0 1 -4,4 H702.5" fill="#fff" stroke="#000" stroke-width="1" shape-rendering="auto"/>
<rect x="691.5" y="217.5" width="17" height="5" fill="#fff" stroke="#000" stroke-width="1"/>
<rect x="697" y="214" width="4" height="10" fill="#000"/>
<rect x="694.5" y="254.5" width="16" height="5" fill="#fff" stroke="#000" stroke-width="1"/>
<rect x="696" y="251" width="6" height="12" fill="#000"/>
<rect x="668" y="262" width="34" height="45" fill="#000"/>
<rect x="701" y="263" width="17" height="1" fill="#000"/>
<rect x="701" y="303" width="17" height="1" fill="#000"/>
<rect x="694.5" y="308.5" width="16" height="5" fill="#fff" stroke="#000" stroke-width="1"/>
<rect x="696" y="306" width="6" height="13" fill="#000"/>
<rect x="694.5" y="333.5" width="16" height="4" fill="#fff" stroke="#000" stroke-width="1"/>
<rect x="696" y="330" width="6" height="12" fill="#000"/>
<rect x="668" y="341" width="34" height="45" fill="#000"/>
<path d="M701,341.5 H714 a4,4 0 0 1 4,4" fill="none" stroke="#000" stroke-width="1" shape-rendering="auto"/>
<rect x="701" y="381" width="17" height="1" fill="#000"/>
<rect x="694.5" y="387.5" width="16" height="5" fill="#fff" stroke="#000" stroke-width="1"/>
<rect x="696" y="385" width="6" height="13" fill="#000"/>
<rect x="662.5" y="415.5" width="39" height="39" fill="#fff" stroke="#000" stroke-width="1"/>
<rect x="695" y="415" width="7" height="40" fill="#000"/>
<polygon points="671,472 689,472 695,466 698,466 698,465 702,465 702,515 695,515 695,510 671,510" fill="#000"/>
<rect x="664.5" y="481.5" width="5" height="9" fill="#fff" stroke="#000" stroke-width="1"/>
<rect x="664.5" y="491.5" width="5" height="9" fill="#fff" stroke="#000" stroke-width="1"/>
<rect x="669" y="483" width="3" height="16" fill="#000"/>
<rect x="140.5" y="64.5" width="6" height="18" fill="#fff" stroke="#000" stroke-width="1"/>
<rect x="142" y="66" width="3" height="3" fill="#000"/>
<rect x="143" y="67" width="1" height="1" fill="#fff"/>
<rect x="140" y="71" width="7" height="5" fill="#000"/>
<rect x="140" y="77" width="7" height="5" fill="#000"/>
<rect x="167.5" y="96.5" width="6" height="24" fill="#fff" stroke="#000" stroke-width="1"/>
<rect x="169" y="98" width="3" height="3" fill="#000"/>
<rect x="170" y="99" width="1" height="1" fill="#fff"/>
<rect x="167" y="103" width="7" height="5" fill="#000"/>
<rect x="167" y="109" width="7" height="5" fill="#000"/>
<rect x="167" y="115" width="7" height="5" fill="#000"/>
<rect x="177.5" y="102.5" width="6" height="18" fill="#fff" stroke="#000" stroke-width="1"/>
<rect x="179" y="104" width="3" height="3" fill="#000"/>
<rect x="180" y="105" width="1" height="1" fill="#fff"/>
<rect x="177" y="109" width="7" height="5" fill="#000"/>
<rect x="177" y="115" width="7" height="5" fill="#000"/>
<rect x="187.5" y="102.5" width="6" height="18" fill="#fff" stroke="#000" stroke-width="1"/>
<rect x="189" y="104" width="3" height="3" fill="#000"/>
<rect x="190" y="105" width="1" height="1" fill="#fff"/>
<rect x="189" y="109" width="3" height="5" fill="#000"/>
<rect x="189" y="115" width="3" height="5" fill="#000"/>
<rect x="197.5" y="102.5" width="6" height="18" fill="#fff" stroke="#000" stroke-width="1"/>
<rect x="199" y="104" width="3" height="3" fill="#000"/>
<rect x="200" y="105" width="1" height="1" fill="#fff"/>
<rect x="199" y="109" width="3" height="5" fill="#000"/>
<rect x="199" y="115" width="3" height="5" fill="#000"/>
<rect x="208.5" y="102.5" width="6" height="18" fill="#fff" stroke="#000" stroke-width="1"/>
<rect x="210" y="104" width="3" height="3" fill="#000"/>
<rect x="211" y="105" width="1" height="1" fill="#fff"/>
<rect x="208" y="109" width="7" height="5" fill="#000"/>
<rect x="208" y="115" width="7" height="5" fill="#000"/>
<rect x="218.5" y="102.5" width="6" height="18" fill="#fff" stroke="#000" stroke-width="1"/>
<rect x="220" y="104" width="3" height="3" fill="#000"/>
<rect x="221" y="105" width="1" height="1" fill="#fff"/>
<rect x="218" y="109" width="7" height="5" fill="#000"/>
<rect x="218" y="115" width="7" height="5" fill="#000"/>
<rect x="228.5" y="102.5" width="6" height="18" fill="#fff" stroke="#000" stroke-width="1"/>
<rect x="230" y="104" width="3" height="3" fill="#000"/>
<rect x="231" y="105" width="1" height="1" fill="#fff"/>
<rect x="230" y="109" width="3" height="5" fill="#000"/>
<rect x="230" y="115" width="3" height="5" fill="#000"/>
<rect x="193.5" y="157.5" width="6" height="18" fill="#fff" stroke="#000" stroke-width="1"/>
<rect x="195" y="159" width="3" height="3" fill="#000"/>
<rect x="196" y="160" width="1" height="1" fill="#fff"/>
<rect x="195" y="164" width="3" height="5" fill="#000"/>
<rect x="195" y="170" width="3" height="5" fill="#000"/>
<rect x="203.5" y="157.5" width="6" height="18" fill="#fff" stroke="#000" stroke-width="1"/>
<rect x="205" y="159" width="3" height="3" fill="#000"/>
<rect x="206" y="160" width="1" height="1" fill="#fff"/>
<rect x="205" y="164" width="3" height="5" fill="#000"/>
<rect x="205" y="170" width="3" height="5" fill="#000"/>
<rect x="213.5" y="157.5" width="6" height="18" fill="#fff" stroke="#000" stroke-width="1"/>
<rect x="215" y="159" width="3" height="3" fill="#000"/>
<rect x="216" y="160" width="1" height="1" fill="#fff"/>
<rect x="213" y="164" width="7" height="5" fill="#000"/>
<rect x="213" y="170" width="7" height="5" fill="#000"/>
<rect x="283.5" y="169.5" width="7" height="18" fill="#fff" stroke="#000" stroke-width="1"/>
<rect x="286" y="171" width="3" height="3" fill="#000"/>
<rect x="287" y="172" width="1" height="1" fill="#fff"/>
<rect x="285" y="176" width="4" height="5" fill="#000"/>
<rect x="285" y="182" width="4" height="5" fill="#000"/>
<rect x="292.5" y="169.5" width="7" height="18" fill="#fff" stroke="#000" stroke-width="1"/>
<rect x="294" y="171" width="3" height="3" fill="#000"/>
<rect x="295" y="172" width="1" height="1" fill="#fff"/>
<rect x="294" y="176" width="4" height="5" fill="#000"/>
<rect x="294" y="182" width="4" height="5" fill="#000"/>
<rect x="273.5" y="184.5" width="7" height="18" fill="#fff" stroke="#000" stroke-width="1"/>
<rect x="276" y="186" width="3" height="3" fill="#000"/>
<rect x="277" y="187" width="1" height="1" fill="#fff"/>
<rect x="275" y="191" width="4" height="5" fill="#000"/>
<rect x="275" y="197" width="4" height="5" fill="#000"/>
<rect x="459.5" y="214.5" width="6" height="18" fill="#fff" stroke="#000" stroke-width="1"/>
<rect x="461" y="216" width="3" height="3" fill="#000"/>
<rect x="462" y="217" width="1" height="1" fill="#fff"/>
<rect x="461" y="221" width="3" height="5" fill="#000"/>
<rect x="461" y="227" width="3" height="5" fill="#000"/>
<rect x="193.5" y="292.5" width="6" height="18" fill="#fff" stroke="#000" stroke-width="1"/>
<rect x="195" y="294" width="3" height="3" fill="#000"/>
<rect x="196" y="295" width="1" height="1" fill="#fff"/>
<rect x="193" y="299" width="7" height="5" fill="#000"/>
<rect x="193" y="305" width="7" height="5" fill="#000"/>
<rect x="136.5" y="286.5" width="6" height="18" fill="#fff" stroke="#000" stroke-width="1"/>
<rect x="138" y="288" width="3" height="3" fill="#000"/>
<rect x="139" y="289" width="1" height="1" fill="#fff"/>
<rect x="136" y="293" width="7" height="5" fill="#000"/>
<rect x="136" y="299" width="7" height="5" fill="#000"/>
<rect x="243.5" y="314.5" width="6" height="18" fill="#fff" stroke="#000" stroke-width="1"/>
<rect x="245" y="316" width="3" height="3" fill="#000"/>
<rect x="246" y="317" width="1" height="1" fill="#fff"/>
<rect x="243" y="321" width="7" height="5" fill="#000"/>
<rect x="243" y="327" width="7" height="5" fill="#000"/>
<rect x="142.5" y="346.5" width="7" height="18" fill="#fff" stroke="#000" stroke-width="1"/>
<rect x="144" y="348" width="3" height="3" fill="#000"/>
<rect x="145" y="349" width="1" height="1" fill="#fff"/>
<rect x="144" y="353" width="4" height="5" fill="#000"/>
<rect x="144" y="359" width="4" height="5" fill="#000"/>
<rect x="132.5" y="370.5" width="6" height="18" fill="#fff" stroke="#000" stroke-width="1"/>
<rect x="134" y="372" width="3" height="3" fill="#000"/>
<rect x="135" y="373" width="1" height="1" fill="#fff"/>
<rect x="132" y="377" width="7" height="5" fill="#000"/>
<rect x="132" y="383" width="7" height="5" fill="#000"/>
<rect x="142.5" y="370.5" width="6" height="18" fill="#fff" stroke="#000" stroke-width="1"/>
<rect x="144" y="372" width="3" height="3" fill="#000"/>
<rect x="145" y="373" width="1" height="1" fill="#fff"/>
<rect x="142" y="377" width="7" height="5" fill="#000"/>
<rect x="142" y="383" width="7" height="5" fill="#000"/>
<rect x="447.5" y="274.5" width="6" height="18" fill="#fff" stroke="#000" stroke-width="1"/>
<rect x="449" y="276" width="3" height="3" fill="#000"/>
<rect x="450" y="277" width="1" height="1" fill="#fff"/>
<rect x="447" y="281" width="7" height="5" fill="#000"/>
<rect x="447" y="287" width="7" height="5" fill="#000"/>
<rect x="277.5" y="411.5" width="6" height="18" fill="#fff" stroke="#000" stroke-width="1"/>
<rect x="279" y="413" width="3" height="3" fill="#000"/>
<rect x="280" y="414" width="1" height="1" fill="#fff"/>
<rect x="277" y="418" width="7" height="5" fill="#000"/>
<rect x="277" y="424" width="7" height="5" fill="#000"/>
<rect x="508.5" y="447.5" width="6" height="18" fill="#fff" stroke="#000" stroke-width="1"/>
<rect x="510" y="449" width="3" height="3" fill="#000"/>
<rect x="511" y="450" width="1" height="1" fill="#fff"/>
<rect x="508" y="454" width="7" height="5" fill="#000"/>
<rect x="508" y="460" width="7" height="5" fill="#000"/>
<rect x="518.5" y="447.5" width="7" height="18" fill="#fff" stroke="#000" stroke-width="1"/>
<rect x="520" y="449" width="3" height="3" fill="#000"/>
<rect x="521" y="450" width="1" height="1" fill="#fff"/>
<rect x="520" y="454" width="4" height="5" fill="#000"/>
<rect x="520" y="460" width="4" height="5" fill="#000"/>
<rect x="532.5" y="447.5" width="6" height="18" fill="#fff" stroke="#000" stroke-width="1"/>
<rect x="534" y="449" width="3" height="3" fill="#000"/>
<rect x="535" y="450" width="1" height="1" fill="#fff"/>
<rect x="534" y="454" width="3" height="5" fill="#000"/>
<rect x="534" y="460" width="3" height="5" fill="#000"/>
<rect x="570.5" y="473.5" width="7" height="19" fill="#fff" stroke="#000" stroke-width="1"/>
<rect x="572" y="475" width="3" height="3" fill="#000"/>
<rect x="573" y="476" width="1" height="1" fill="#fff"/>
<rect x="572" y="480" width="4" height="6" fill="#000"/>
<rect x="572" y="487" width="4" height="5" fill="#000"/>
<rect x="606.5" y="520.5" width="6" height="18" fill="#fff" stroke="#000" stroke-width="1"/>
<rect x="608" y="522" width="3" height="3" fill="#000"/>
<rect x="609" y="523" width="1" height="1" fill="#fff"/>
<rect x="608" y="527" width="3" height="5" fill="#000"/>
<rect x="608" y="533" width="3" height="5" fill="#000"/>
<rect x="616.5" y="520.5" width="6" height="18" fill="#fff" stroke="#000" stroke-width="1"/>
<rect x="618" y="522" width="3" height="3" fill="#000"/>
<rect x="619" y="523" width="1" height="1" fill="#fff"/>
<rect x="616" y="527" width="7" height="5" fill="#000"/>
<rect x="616" y="533" width="7" height="5" fill="#000"/>
<rect x="626.5" y="520.5" width="6" height="18" fill="#fff" stroke="#000" stroke-width="1"/>
<rect x="628" y="522" width="3" height="3" fill="#000"/>
<rect x="629" y="523" width="1" height="1" fill="#fff"/>
<rect x="626" y="527" width="7" height="5" fill="#000"/>
<rect x="626" y="533" width="7" height="5" fill="#000"/>
<rect x="71.5" y="130.5" width="7" height="14" fill="#fff" stroke="#000" stroke-width="1"/>
<rect x="72" y="131" width="5" height="6" fill="#000"/>
<rect x="72" y="138" width="5" height="6" fill="#000"/>
<rect x="60" y="112" width="26" height="7" fill="#000"/>
<rect x="61" y="113" width="2" height="5" fill="#fff"/>
<rect x="65" y="113" width="1" height="5" fill="#fff"/>
<rect x="70" y="113" width="1" height="5" fill="#fff"/>
<rect x="75" y="113" width="1" height="5" fill="#fff"/>
<rect x="81" y="113" width="1" height="5" fill="#fff"/>
<polygon points="27,39.6 34.88,42.3 43,42.5 43,45.5 34.88,45.7 27,48.4" fill="#000" shape-rendering="geometricPrecision"/>
<polygon points="26,42.0 35.72,43.9 35.72,44.1 26,45.7" fill="#fff" shape-rendering="geometricPrecision"/>
<rect x="3" y="35" width="26" height="18.5" rx="3.5" fill="#000" shape-rendering="geometricPrecision"/>
<rect x="5" y="36.7" width="22" height="14.6" rx="1.9" fill="#fff" shape-rendering="geometricPrecision"/>
<text transform="translate(7.83,48) scale(0.76,1)" font-size="14" letter-spacing="1.906" fill="#000" >J1</text>
<polygon points="111.59,29.41 123.36,39.64 124.64,38.36 114.41,26.59" fill="#000" shape-rendering="geometricPrecision"/>
<rect x="93" y="13.9" width="24.5" height="18.200000000000003" rx="3.5" fill="#000" shape-rendering="geometricPrecision"/>
<rect x="95" y="15.6" width="20.5" height="14.300000000000002" rx="1.9" fill="#fff" shape-rendering="geometricPrecision"/>
<text transform="translate(95.83,27) scale(0.76,1)" font-size="14" letter-spacing="3.636" fill="#000" >J2</text>
<polygon points="154.6,19 156.4,28.56 156.6,39 159.4,39 159.6,28.56 161.4,19" fill="#000" shape-rendering="geometricPrecision"/>
<polygon points="156.4,18 157.9,29.64 158.1,29.64 159.29999999999998,18" fill="#fff" shape-rendering="geometricPrecision"/>
<rect x="136.5" y="2.9000000000000004" width="42.5" height="18.200000000000003" rx="3.5" fill="#000" shape-rendering="geometricPrecision"/>
<rect x="138.5" y="4.6000000000000005" width="38.5" height="14.300000000000002" rx="1.9" fill="#fff" shape-rendering="geometricPrecision"/>
<text transform="translate(139.83,16) scale(0.76,1)" font-size="14" letter-spacing="3.939" fill="#000" >JP26</text>
<polygon points="195.62,27.55 185.38,38.85 186.62,40.15 198.38,30.45" fill="#000" shape-rendering="geometricPrecision"/>
<rect x="193" y="13.4" width="42" height="18.200000000000003" rx="3.5" fill="#000" shape-rendering="geometricPrecision"/>
<rect x="195" y="15.1" width="38" height="14.300000000000002" rx="1.9" fill="#fff" shape-rendering="geometricPrecision"/>
<text transform="translate(197.23,26) scale(0.76,1)" font-size="14" letter-spacing="3.793" fill="#000" >JP17</text>
<polygon points="255,46.6 246.28,49.3 237,49.5 237,52.5 246.28,52.7 255,55.4" fill="#000" shape-rendering="geometricPrecision"/>
<polygon points="256,49.0 245.32,50.9 245.32,51.1 256,52.7" fill="#fff" shape-rendering="geometricPrecision"/>
<rect x="253" y="42.4" width="45" height="18.200000000000003" rx="3.5" fill="#000" shape-rendering="geometricPrecision"/>
<rect x="255" y="44.1" width="41" height="14.300000000000002" rx="1.9" fill="#fff" shape-rendering="geometricPrecision"/>
<text transform="translate(256.13,55) scale(0.76,1)" font-size="14" letter-spacing="3.567" fill="#000" >JP11</text>
<polygon points="122,69.1 130.72,71.8 140,72.0 140,75.0 130.72,75.2 122,77.9" fill="#000" shape-rendering="geometricPrecision"/>
<polygon points="121,71.5 131.68,73.4 131.68,73.6 121,75.2" fill="#fff" shape-rendering="geometricPrecision"/>
<rect x="78" y="64" width="46" height="19" rx="3.5" fill="#000" shape-rendering="geometricPrecision"/>
<rect x="80" y="65.7" width="42" height="15.1" rx="1.9" fill="#fff" shape-rendering="geometricPrecision"/>
<text transform="translate(81.93,77) scale(0.76,1)" font-size="14" letter-spacing="3.981" fill="#000" >JP28</text>
<polygon points="189.46,91.28 200.31,102.58 201.69,101.42 192.54,88.72" fill="#000" shape-rendering="geometricPrecision"/>
<rect x="154" y="76.15" width="41" height="18.19999999999999" rx="3.5" fill="#000" shape-rendering="geometricPrecision"/>
<rect x="156" y="77.85000000000001" width="37" height="14.299999999999988" rx="1.9" fill="#fff" shape-rendering="geometricPrecision"/>
<text transform="translate(156.83,89) scale(0.76,1)" font-size="14" letter-spacing="3.925" fill="#000" >JP22</text>
<polygon points="232.71,89.47 220.42,101.31 221.58,102.69 235.29,92.53" fill="#000" shape-rendering="geometricPrecision"/>
<rect x="230" y="75.9" width="40" height="18.19999999999999" rx="3.5" fill="#000" shape-rendering="geometricPrecision"/>
<rect x="232" y="77.60000000000001" width="36" height="14.299999999999988" rx="1.9" fill="#fff" shape-rendering="geometricPrecision"/>
<text transform="translate(234.33,89) scale(0.76,1)" font-size="14" letter-spacing="3.604" fill="#000" >JP19</text>
<polygon points="148,103.6 157.14,106.3 167,106.5 167,109.5 157.14,109.7 148,112.4" fill="#000" shape-rendering="geometricPrecision"/>
<polygon points="147,106.0 158.16,107.9 158.16,108.1 147,109.7" fill="#fff" shape-rendering="geometricPrecision"/>
<rect x="105" y="99" width="45" height="18.5" rx="3.5" fill="#000" shape-rendering="geometricPrecision"/>
<rect x="107" y="100.7" width="41" height="14.6" rx="1.9" fill="#fff" shape-rendering="geometricPrecision"/>
<text transform="translate(108.73,112) scale(0.76,1)" font-size="14" letter-spacing="3.837" fill="#000" >JP27</text>
<polygon points="253,107.6 244.28,110.3 235,110.5 235,113.5 244.28,113.7 253,116.4" fill="#000" shape-rendering="geometricPrecision"/>
<polygon points="254,110.0 243.32,111.9 243.32,112.1 254,113.7" fill="#fff" shape-rendering="geometricPrecision"/>
<rect x="251" y="103.4" width="45" height="18.19999999999999" rx="3.5" fill="#000" shape-rendering="geometricPrecision"/>
<rect x="253" y="105.10000000000001" width="41" height="14.299999999999988" rx="1.9" fill="#fff" shape-rendering="geometricPrecision"/>
<text transform="translate(254.83,116) scale(0.76,1)" font-size="14" letter-spacing="3.827" fill="#000" >JP14</text>
<polygon points="44,111.1 51.88,113.8 60,114.0 60,117.0 51.88,117.2 44,119.9" fill="#000" shape-rendering="geometricPrecision"/>
<polygon points="43,113.5 52.72,115.4 52.72,115.6 43,117.2" fill="#fff" shape-rendering="geometricPrecision"/>
<rect x="20.5" y="106.4" width="25.5" height="18.19999999999999" rx="3.5" fill="#000" shape-rendering="geometricPrecision"/>
<rect x="22.5" y="108.10000000000001" width="21.5" height="14.299999999999988" rx="1.9" fill="#fff" shape-rendering="geometricPrecision"/>
<text transform="translate(24.93,119) scale(0.76,1)" font-size="14" letter-spacing="3.416" fill="#000" >J3</text>
<polygon points="54.7,133.1 62.706,135.8 71,136.0 71,139.0 62.706,139.2 54.7,141.9" fill="#000" shape-rendering="geometricPrecision"/>
<polygon points="53.7,135.5 63.564,137.4 63.564,137.6 53.7,139.2" fill="#fff" shape-rendering="geometricPrecision"/>
<rect x="31" y="128" width="25.700000000000003" height="18.599999999999994" rx="3.5" fill="#000" shape-rendering="geometricPrecision"/>
<rect x="33" y="129.7" width="21.700000000000003" height="14.699999999999994" rx="1.9" fill="#fff" shape-rendering="geometricPrecision"/>
<text transform="translate(34.16,141) scale(0.76,1)" font-size="14" letter-spacing="5.867" fill="#000" >C1</text>
<polygon points="168.35,132.47 179.61,120.66 178.39,119.34 165.65,129.53" fill="#000" shape-rendering="geometricPrecision"/>
<rect x="129" y="128.4" width="40" height="18.19999999999999" rx="3.5" fill="#000" shape-rendering="geometricPrecision"/>
<rect x="131" y="130.1" width="36" height="14.299999999999988" rx="1.9" fill="#fff" shape-rendering="geometricPrecision"/>
<text transform="translate(132.33,141) scale(0.76,1)" font-size="14" letter-spacing="3.886" fill="#000" >JP25</text>
<polygon points="222.48,129.65 211.67,119.39 210.33,120.61 219.52,132.35" fill="#000" shape-rendering="geometricPrecision"/>
<rect x="218" y="128.4" width="41" height="18.19999999999999" rx="3.5" fill="#000" shape-rendering="geometricPrecision"/>
<rect x="220" y="130.1" width="37" height="14.299999999999988" rx="1.9" fill="#fff" shape-rendering="geometricPrecision"/>
<text transform="translate(221.13,141) scale(0.76,1)" font-size="14" letter-spacing="3.893" fill="#000" >JP18</text>
<polygon points="187.6,141 189.4,131.44 189.6,121 192.4,121 192.6,131.44 194.4,141" fill="#000" shape-rendering="geometricPrecision"/>
<polygon points="189.4,142 190.9,130.36 191.1,130.36 192.29999999999998,142" fill="#fff" shape-rendering="geometricPrecision"/>
<rect x="171" y="138.4" width="42" height="18.19999999999999" rx="3.5" fill="#000" shape-rendering="geometricPrecision"/>
<rect x="173" y="140.1" width="38" height="14.299999999999988" rx="1.9" fill="#fff" shape-rendering="geometricPrecision"/>
<text transform="translate(174.83,151) scale(0.76,1)" font-size="14" letter-spacing="3.895" fill="#000" >JP23</text>
<polygon points="175,161.6 183.72,164.3 193,164.5 193,167.5 183.72,167.7 175,170.4" fill="#000" shape-rendering="geometricPrecision"/>
<polygon points="174,164.0 184.68,165.9 184.68,166.1 174,167.7" fill="#fff" shape-rendering="geometricPrecision"/>
<rect x="132" y="157.4" width="45" height="18.19999999999999" rx="3.5" fill="#000" shape-rendering="geometricPrecision"/>
<rect x="134" y="159.1" width="41" height="14.299999999999988" rx="1.9" fill="#fff" shape-rendering="geometricPrecision"/>
<text transform="translate(135.33,170) scale(0.76,1)" font-size="14" letter-spacing="3.872" fill="#000" >JP20</text>
<polygon points="239,160.6 229.86,163.3 220,163.5 220,166.5 229.86,166.7 239,169.4" fill="#000" shape-rendering="geometricPrecision"/>
<polygon points="240,163.0 228.84,164.9 228.84,165.1 240,166.7" fill="#fff" shape-rendering="geometricPrecision"/>
<rect x="237" y="155.9" width="44" height="18.19999999999999" rx="3.5" fill="#000" shape-rendering="geometricPrecision"/>
<rect x="239" y="157.6" width="40" height="14.299999999999988" rx="1.9" fill="#fff" shape-rendering="geometricPrecision"/>
<text transform="translate(240.33,169) scale(0.76,1)" font-size="14" letter-spacing="3.667" fill="#000" >JP15</text>
<polygon points="202.6,195 204.4,185.44 204.6,175 207.4,175 207.6,185.44 209.4,195" fill="#000" shape-rendering="geometricPrecision"/>
<polygon points="204.4,196 205.9,184.36 206.1,184.36 207.29999999999998,196" fill="#fff" shape-rendering="geometricPrecision"/>
<rect x="186" y="192.9" width="43" height="18.19999999999999" rx="3.5" fill="#000" shape-rendering="geometricPrecision"/>
<rect x="188" y="194.6" width="39" height="14.299999999999988" rx="1.9" fill="#fff" shape-rendering="geometricPrecision"/>
<text transform="translate(190.13,206) scale(0.76,1)" font-size="14" letter-spacing="4.620" fill="#000" >JP21</text>
<polygon points="296.46,156.72 287.31,169.42 288.69,170.58 299.54,159.28" fill="#000" shape-rendering="geometricPrecision"/>
<rect x="296" y="143.4" width="39" height="18.19999999999999" rx="3.5" fill="#000" shape-rendering="geometricPrecision"/>
<rect x="298" y="145.1" width="35" height="14.299999999999988" rx="1.9" fill="#fff" shape-rendering="geometricPrecision"/>
<text transform="translate(302.33,156) scale(0.76,1)" font-size="14" letter-spacing="3.383" fill="#000" >JP4</text>
<polygon points="317,173.6 308.28,176.3 299,176.5 299,179.5 308.28,179.7 317,182.4" fill="#000" shape-rendering="geometricPrecision"/>
<polygon points="318,176.0 307.32,177.9 307.32,178.1 318,179.7" fill="#fff" shape-rendering="geometricPrecision"/>
<rect x="315" y="168.4" width="35" height="18.19999999999999" rx="3.5" fill="#000" shape-rendering="geometricPrecision"/>
<rect x="317" y="170.1" width="31" height="14.299999999999988" rx="1.9" fill="#fff" shape-rendering="geometricPrecision"/>
<text transform="translate(319.83,181) scale(0.76,1)" font-size="14" letter-spacing="3.999" fill="#000" >JP5</text>
<polygon points="293.47,203.65 281.66,192.39 280.34,193.61 290.53,206.35" fill="#000" shape-rendering="geometricPrecision"/>
<rect x="289" y="201.4" width="39" height="18.19999999999999" rx="3.5" fill="#000" shape-rendering="geometricPrecision"/>
<rect x="291" y="203.1" width="35" height="14.299999999999988" rx="1.9" fill="#fff" shape-rendering="geometricPrecision"/>
<text transform="translate(290.33,214) scale(0.76,1)" font-size="14" letter-spacing="4.066" fill="#000" >JPX2</text>
<polygon points="442,218.6 450.3,221.3 459,221.5 459,224.5 450.3,224.7 442,227.4" fill="#000" shape-rendering="geometricPrecision"/>
<polygon points="441,221.0 451.2,222.9 451.2,223.1 441,224.7" fill="#fff" shape-rendering="geometricPrecision"/>
<rect x="409" y="213.4" width="35" height="18.19999999999999" rx="3.5" fill="#000" shape-rendering="geometricPrecision"/>
<rect x="411" y="215.1" width="31" height="14.299999999999988" rx="1.9" fill="#fff" shape-rendering="geometricPrecision"/>
<text transform="translate(412.33,226) scale(0.76,1)" font-size="14" letter-spacing="4.497" fill="#000" >JP9</text>
<rect x="101" y="206.9" width="37" height="18.19999999999999" rx="3.5" fill="#000" shape-rendering="geometricPrecision"/>
<rect x="103" y="208.6" width="33" height="14.299999999999988" rx="1.9" fill="#fff" shape-rendering="geometricPrecision"/>
<text transform="translate(103.26,220) scale(0.76,1)" font-size="14" letter-spacing="7.169" fill="#000" >CPU</text>
<polygon points="192.6,273 194.4,282.14 194.6,292 197.4,292 197.6,282.14 199.4,273" fill="#000" shape-rendering="geometricPrecision"/>
<polygon points="194.4,272 195.9,283.16 196.1,283.16 197.29999999999998,272" fill="#fff" shape-rendering="geometricPrecision"/>
<rect x="174" y="257.4" width="44" height="18.200000000000045" rx="3.5" fill="#000" shape-rendering="geometricPrecision"/>
<rect x="176" y="259.09999999999997" width="40" height="14.300000000000045" rx="1.9" fill="#fff" shape-rendering="geometricPrecision"/>
<text transform="translate(177.63,270) scale(0.76,1)" font-size="14" letter-spacing="4.027" fill="#000" >JP13</text>
<polygon points="117,289.6 126.14,292.3 136,292.5 136,295.5 126.14,295.7 117,298.4" fill="#000" shape-rendering="geometricPrecision"/>
<polygon points="116,292.0 127.16,293.9 127.16,294.1 116,295.7" fill="#fff" shape-rendering="geometricPrecision"/>
<rect x="75" y="284.9" width="44" height="18.200000000000045" rx="3.5" fill="#000" shape-rendering="geometricPrecision"/>
<rect x="77" y="286.59999999999997" width="40" height="14.300000000000045" rx="1.9" fill="#fff" shape-rendering="geometricPrecision"/>
<text transform="translate(78.63,298) scale(0.76,1)" font-size="14" letter-spacing="3.925" fill="#000" >JP32</text>
<polygon points="225,319.6 233.72,322.3 243,322.5 243,325.5 233.72,325.7 225,328.4" fill="#000" shape-rendering="geometricPrecision"/>
<polygon points="224,322.0 234.68,323.9 234.68,324.1 224,325.7" fill="#fff" shape-rendering="geometricPrecision"/>
<rect x="182" y="315.9" width="45" height="18.200000000000045" rx="3.5" fill="#000" shape-rendering="geometricPrecision"/>
<rect x="184" y="317.59999999999997" width="41" height="14.300000000000045" rx="1.9" fill="#fff" shape-rendering="geometricPrecision"/>
<text transform="translate(185.43,329) scale(0.76,1)" font-size="14" letter-spacing="4.495" fill="#000" >JP12</text>
<polygon points="123,350.6 132.14,353.3 142,353.5 142,356.5 132.14,356.7 123,359.4" fill="#000" shape-rendering="geometricPrecision"/>
<polygon points="122,353.0 133.16,354.9 133.16,355.1 122,356.7" fill="#fff" shape-rendering="geometricPrecision"/>
<rect x="81" y="346.4" width="44" height="18.200000000000045" rx="3.5" fill="#000" shape-rendering="geometricPrecision"/>
<rect x="83" y="348.09999999999997" width="40" height="14.300000000000045" rx="1.9" fill="#fff" shape-rendering="geometricPrecision"/>
<text transform="translate(84.33,359) scale(0.76,1)" font-size="14" letter-spacing="3.911" fill="#000" >JP29</text>
<polygon points="113,374.6 122.14,377.3 132,377.5 132,380.5 122.14,380.7 113,383.4" fill="#000" shape-rendering="geometricPrecision"/>
<polygon points="112,377.0 123.16,378.9 123.16,379.1 112,380.7" fill="#fff" shape-rendering="geometricPrecision"/>
<rect x="71" y="369.9" width="44" height="18.200000000000045" rx="3.5" fill="#000" shape-rendering="geometricPrecision"/>
<rect x="73" y="371.59999999999997" width="40" height="14.300000000000045" rx="1.9" fill="#fff" shape-rendering="geometricPrecision"/>
<text transform="translate(73.63,383) scale(0.76,1)" font-size="14" letter-spacing="4.399" fill="#000" >JP30</text>
<polygon points="168,374.6 158.44,377.3 148,377.5 148,380.5 158.44,380.7 168,383.4" fill="#000" shape-rendering="geometricPrecision"/>
<polygon points="169,377.0 157.36,378.9 157.36,379.1 169,380.7" fill="#fff" shape-rendering="geometricPrecision"/>
<rect x="166" y="369.9" width="45" height="18.200000000000045" rx="3.5" fill="#000" shape-rendering="geometricPrecision"/>
<rect x="168" y="371.59999999999997" width="41" height="14.300000000000045" rx="1.9" fill="#fff" shape-rendering="geometricPrecision"/>
<text transform="translate(169.83,383) scale(0.76,1)" font-size="14" letter-spacing="3.918" fill="#000" >JP31</text>
<polygon points="429,278.6 437.72,281.3 447,281.5 447,284.5 437.72,284.7 429,287.4" fill="#000" shape-rendering="geometricPrecision"/>
<polygon points="428,281.0 438.68,282.9 438.68,283.1 428,284.7" fill="#fff" shape-rendering="geometricPrecision"/>
<rect x="386" y="273.4" width="45" height="18.200000000000045" rx="3.5" fill="#000" shape-rendering="geometricPrecision"/>
<rect x="388" y="275.09999999999997" width="41" height="14.300000000000045" rx="1.9" fill="#fff" shape-rendering="geometricPrecision"/>
<text transform="translate(387.83,286) scale(0.76,1)" font-size="14" letter-spacing="5.001" fill="#000" >JPX3</text>
<rect x="323" y="280" width="28" height="14" fill="#fff"/>
<text transform="translate(324.26,291) scale(0.76,1)" font-size="14" letter-spacing="3.068" fill="#000" >TAG</text>
<polygon points="315.5,323 317.40000000000003,332.56 317.6,343 320.4,343 320.59999999999997,332.56 322.5,323" fill="#000" shape-rendering="geometricPrecision"/>
<polygon points="317.4,322 318.9,333.64 319.1,333.64 320.3,322" fill="#fff" shape-rendering="geometricPrecision"/>
<rect x="304" y="311" width="31" height="15" rx="2.5" fill="#000" shape-rendering="geometricPrecision"/>
<rect x="305" y="312" width="29" height="13" rx="1.5" fill="#fff" shape-rendering="geometricPrecision"/>
<text transform="translate(304.96,323) scale(0.76,1)" font-size="14" letter-spacing="4.796" fill="#000" >CN7</text>
<rect x="423" y="310" width="28" height="14" fill="#fff"/>
<text transform="translate(423.72,321) scale(0.76,1)" font-size="14" letter-spacing="3.731" fill="#000" >SL1</text>
<polygon points="276,391.6 284.3,394.3 293,394.5 293,397.5 284.3,397.7 276,400.4" fill="#000" shape-rendering="geometricPrecision"/>
<polygon points="275,394.0 285.2,395.9 285.2,396.1 275,397.7" fill="#fff" shape-rendering="geometricPrecision"/>
<rect x="242" y="386.4" width="36" height="18.200000000000045" rx="3.5" fill="#000" shape-rendering="geometricPrecision"/>
<rect x="244" y="388.09999999999997" width="32" height="14.300000000000045" rx="1.9" fill="#fff" shape-rendering="geometricPrecision"/>
<text transform="translate(244.96,399) scale(0.76,1)" font-size="14" letter-spacing="4.748" fill="#000" >CN8</text>
<polygon points="364,388.6 355.7,391.3 347,391.5 347,394.5 355.7,394.7 364,397.4" fill="#000" shape-rendering="geometricPrecision"/>
<polygon points="365,391.0 354.8,392.9 354.8,393.1 365,394.7" fill="#fff" shape-rendering="geometricPrecision"/>
<rect x="362" y="383.9" width="33" height="18.200000000000045" rx="3.5" fill="#000" shape-rendering="geometricPrecision"/>
<rect x="364" y="385.59999999999997" width="29" height="14.300000000000045" rx="1.9" fill="#fff" shape-rendering="geometricPrecision"/>
<text transform="translate(363.76,397) scale(0.76,1)" font-size="14" letter-spacing="4.752" fill="#000" >CN6</text>
<polygon points="258,415.6 267.14,418.3 277,418.5 277,421.5 267.14,421.7 258,424.4" fill="#000" shape-rendering="geometricPrecision"/>
<polygon points="257,418.0 268.16,419.9 268.16,420.1 257,421.7" fill="#fff" shape-rendering="geometricPrecision"/>
<rect x="216" y="410.9" width="44" height="18.200000000000045" rx="3.5" fill="#000" shape-rendering="geometricPrecision"/>
<rect x="218" y="412.59999999999997" width="40" height="14.300000000000045" rx="1.9" fill="#fff" shape-rendering="geometricPrecision"/>
<text transform="translate(219.33,424) scale(0.76,1)" font-size="14" letter-spacing="4.092" fill="#000" >JP10</text>
<polygon points="604,99.6 611.88,102.3 620,102.5 620,105.5 611.88,105.7 604,108.4" fill="#000" shape-rendering="geometricPrecision"/>
<polygon points="603,102.0 612.72,103.9 612.72,104.1 603,105.7" fill="#fff" shape-rendering="geometricPrecision"/>
<rect x="570" y="95.4" width="36" height="18.19999999999999" rx="3.5" fill="#000" shape-rendering="geometricPrecision"/>
<rect x="572" y="97.10000000000001" width="32" height="14.299999999999988" rx="1.9" fill="#fff" shape-rendering="geometricPrecision"/>
<text transform="translate(572.46,108) scale(0.76,1)" font-size="14" letter-spacing="3.788" fill="#000" >CN9</text>
<rect x="415" y="60.9" width="58" height="18.199999999999996" rx="3.5" fill="#000" shape-rendering="geometricPrecision"/>
<rect x="417" y="62.6" width="54" height="14.299999999999995" rx="1.9" fill="#fff" shape-rendering="geometricPrecision"/>
<text transform="translate(416.23,74) scale(0.76,1)" font-size="14" letter-spacing="4.200" fill="#000" >BANK 2</text>
<rect x="412" y="99.15" width="59" height="18.19999999999999" rx="3.5" fill="#000" shape-rendering="geometricPrecision"/>
<rect x="414" y="100.85000000000001" width="55" height="14.299999999999988" rx="1.9" fill="#fff" shape-rendering="geometricPrecision"/>
<text transform="translate(417.73,112) scale(0.76,1)" font-size="14" letter-spacing="2.405" fill="#000" >BANK 0</text>
<rect x="416" y="144.4" width="58" height="18.19999999999999" rx="3.5" fill="#000" shape-rendering="geometricPrecision"/>
<rect x="418" y="146.1" width="54" height="14.299999999999988" rx="1.9" fill="#fff" shape-rendering="geometricPrecision"/>
<text transform="translate(421.13,157) scale(0.76,1)" font-size="14" letter-spacing="2.248" fill="#000" >BANK 1</text>
<rect x="518" y="220.9" width="48" height="18.19999999999999" rx="3.5" fill="#000" shape-rendering="geometricPrecision"/>
<rect x="520" y="222.6" width="44" height="14.299999999999988" rx="1.9" fill="#fff" shape-rendering="geometricPrecision"/>
<text transform="translate(519.75,234) scale(0.76,1)" font-size="14" letter-spacing="3.995" fill="#000" >VIDEO</text>
<rect x="480" y="265" width="58" height="15" fill="#fff"/>
<text transform="translate(481.43,277) scale(0.76,1)" font-size="14" letter-spacing="4.594" fill="#000" >BANK 2</text>
<rect x="543" y="252" width="57" height="15" rx="3" fill="#000" shape-rendering="geometricPrecision"/>
<rect x="544" y="253" width="55" height="13" rx="2" fill="#fff" shape-rendering="geometricPrecision"/>
<text transform="translate(543.83,264) scale(0.76,1)" font-size="14" letter-spacing="3.984" fill="#000" >BANK 0</text>
<rect x="543" y="279" width="56" height="13" fill="#fff"/>
<text transform="translate(544.13,290) scale(0.76,1)" font-size="14" letter-spacing="3.933" fill="#000" >BANK 1</text>
<rect x="679" y="67" width="29" height="15.5" rx="2" fill="#000" shape-rendering="geometricPrecision"/>
<rect x="680" y="68" width="27" height="13.5" rx="1" fill="#fff" shape-rendering="geometricPrecision"/>
<text transform="translate(681.26,79) scale(0.76,1)" font-size="14" letter-spacing="1.496" fill="#000" >CN1</text>
<rect x="679" y="161" width="30" height="15" rx="0" fill="#000" shape-rendering="geometricPrecision"/>
<rect x="680" y="162" width="28" height="13" rx="0" fill="#fff" shape-rendering="geometricPrecision"/>
<text transform="translate(681.26,173) scale(0.76,1)" font-size="14" letter-spacing="3.611" fill="#000" >CN2</text>
<rect x="679" y="277" width="30" height="15" rx="2" fill="#000" shape-rendering="geometricPrecision"/>
<rect x="680" y="278" width="28" height="13" rx="1" fill="#fff" shape-rendering="geometricPrecision"/>
<text transform="translate(679.96,289) scale(0.76,1)" font-size="14" letter-spacing="3.436" fill="#000" >CN3</text>
<rect x="679" y="356" width="30" height="15" rx="2" fill="#000" shape-rendering="geometricPrecision"/>
<rect x="680" y="357" width="28" height="13" rx="1" fill="#fff" shape-rendering="geometricPrecision"/>
<text transform="translate(680.46,368) scale(0.76,1)" font-size="14" letter-spacing="2.346" fill="#000" >CN4</text>
<rect x="665" y="426" width="32" height="19" rx="3.5" fill="#000" shape-rendering="geometricPrecision"/>
<rect x="667" y="427.7" width="28" height="15.1" rx="1.9" fill="#fff" shape-rendering="geometricPrecision"/>
<text transform="translate(667.46,439) scale(0.76,1)" font-size="14" letter-spacing="4.738" fill="#000" >CN5</text>
<rect x="608" y="443" width="28" height="16" fill="#fff"/>
<text transform="translate(609.13,455) scale(0.76,1)" font-size="14" letter-spacing="2.634" fill="#000" >KBD</text>
<rect x="481" y="484" width="42" height="15" fill="#fff"/>
<text transform="translate(484.13,496) scale(0.76,1)" font-size="14" letter-spacing="4.051" fill="#000" >BIOS</text>
<polygon points="516.6,428 518.4,437.14 518.6,447 521.4,447 521.6,437.14 523.4,428" fill="#000" shape-rendering="geometricPrecision"/>
<polygon points="518.4,427 519.9,438.16 520.1,438.16 521.3000000000001,427" fill="#fff" shape-rendering="geometricPrecision"/>
<rect x="505" y="412.4" width="32" height="18.200000000000045" rx="3.5" fill="#000" shape-rendering="geometricPrecision"/>
<rect x="507" y="414.09999999999997" width="28" height="14.300000000000045" rx="1.9" fill="#fff" shape-rendering="geometricPrecision"/>
<text transform="translate(507.43,425) scale(0.76,1)" font-size="14" letter-spacing="4.452" fill="#000" >JP7</text>
<polygon points="491,451.6 499.3,454.3 508,454.5 508,457.5 499.3,457.7 491,460.4" fill="#000" shape-rendering="geometricPrecision"/>
<polygon points="490,454.0 500.2,455.9 500.2,456.1 490,457.7" fill="#fff" shape-rendering="geometricPrecision"/>
<rect x="458" y="447.4" width="35" height="18.200000000000045" rx="3.5" fill="#000" shape-rendering="geometricPrecision"/>
<rect x="460" y="449.09999999999997" width="31" height="14.300000000000045" rx="1.9" fill="#fff" shape-rendering="geometricPrecision"/>
<text transform="translate(461.13,460) scale(0.76,1)" font-size="14" letter-spacing="4.272" fill="#000" >JP8</text>
<polygon points="557,451.6 548.28,454.3 539,454.5 539,457.5 548.28,457.7 557,460.4" fill="#000" shape-rendering="geometricPrecision"/>
<polygon points="558,454.0 547.32,455.9 547.32,456.1 558,457.7" fill="#fff" shape-rendering="geometricPrecision"/>
<rect x="555" y="446.9" width="34" height="18.200000000000045" rx="3.5" fill="#000" shape-rendering="geometricPrecision"/>
<rect x="557" y="448.59999999999997" width="30" height="14.300000000000045" rx="1.9" fill="#fff" shape-rendering="geometricPrecision"/>
<text transform="translate(557.83,460) scale(0.76,1)" font-size="14" letter-spacing="4.802" fill="#000" >JP6</text>
<polygon points="597,480.6 587.44,483.3 577,483.5 577,486.5 587.44,486.7 597,489.4" fill="#000" shape-rendering="geometricPrecision"/>
<polygon points="598,483.0 586.36,484.9 586.36,485.1 598,486.7" fill="#fff" shape-rendering="geometricPrecision"/>
<rect x="595" y="475.15" width="43" height="18.200000000000045" rx="3.5" fill="#000" shape-rendering="geometricPrecision"/>
<rect x="597" y="476.84999999999997" width="39" height="14.300000000000045" rx="1.9" fill="#fff" shape-rendering="geometricPrecision"/>
<text transform="translate(597.63,488) scale(0.76,1)" font-size="14" letter-spacing="4.585" fill="#000" >JPX1</text>
<polygon points="589,524.6 597.3,527.3 606,527.5 606,530.5 597.3,530.7 589,533.4" fill="#000" shape-rendering="geometricPrecision"/>
<polygon points="588,527.0 598.2,528.9 598.2,529.1 588,530.7" fill="#fff" shape-rendering="geometricPrecision"/>
<rect x="556" y="519.9" width="35" height="18.200000000000045" rx="3.5" fill="#000" shape-rendering="geometricPrecision"/>
<rect x="558" y="521.6" width="31" height="14.300000000000045" rx="1.9" fill="#fff" shape-rendering="geometricPrecision"/>
<text transform="translate(559.43,533) scale(0.76,1)" font-size="14" letter-spacing="3.750" fill="#000" >JP3</text>
<polygon points="650,524.6 641.7,527.3 633,527.5 633,530.5 641.7,530.7 650,533.4" fill="#000" shape-rendering="geometricPrecision"/>
<polygon points="651,527.0 640.8,528.9 640.8,529.1 651,530.7" fill="#fff" shape-rendering="geometricPrecision"/>
<rect x="648" y="520.9" width="33" height="18.200000000000045" rx="3.5" fill="#000" shape-rendering="geometricPrecision"/>
<rect x="650" y="522.6" width="29" height="14.300000000000045" rx="1.9" fill="#fff" shape-rendering="geometricPrecision"/>
<text transform="translate(651.13,534) scale(0.76,1)" font-size="14" letter-spacing="4.442" fill="#000" >JP1</text>
<polygon points="615.6,558 617.4,548.44 617.6,538 620.4,538 620.6,548.44 622.4,558" fill="#000" shape-rendering="geometricPrecision"/>
<polygon points="617.4,559 618.9,547.36 619.1,547.36 620.3000000000001,559" fill="#fff" shape-rendering="geometricPrecision"/>
<rect x="603" y="555.4" width="32" height="18.200000000000045" rx="3.5" fill="#000" shape-rendering="geometricPrecision"/>
<rect x="605" y="557.1" width="28" height="14.300000000000045" rx="1.9" fill="#fff" shape-rendering="geometricPrecision"/>
<text transform="translate(605.83,568) scale(0.76,1)" font-size="14" letter-spacing="5.109" fill="#000" >JP2</text>
<polygon points="395,534.6 403.72,537.3 413,537.5 413,540.5 403.72,540.7 395,543.4" fill="#000" shape-rendering="geometricPrecision"/>
<polygon points="394,537.0 404.68,538.9 404.68,539.1 394,540.7" fill="#fff" shape-rendering="geometricPrecision"/>
<rect x="372" y="529.4" width="25" height="18.200000000000045" rx="3.5" fill="#000" shape-rendering="geometricPrecision"/>
<rect x="374" y="531.1" width="21" height="14.300000000000045" rx="1.9" fill="#fff" shape-rendering="geometricPrecision"/>
<text transform="translate(374.96,542) scale(0.76,1)" font-size="14" letter-spacing="4.307" fill="#000" >C2</text>
<rect x="98" y="469" width="48" height="15" rx="0" fill="#000" shape-rendering="geometricPrecision"/>
<rect x="99" y="470" width="46" height="13" rx="0" fill="#fff" shape-rendering="geometricPrecision"/>
<text transform="translate(99.46,481) scale(0.76,1)" font-size="14" letter-spacing="2.550" fill="#000" >CACHE</text>
<rect x="68" y="439" width="15.5" height="74.5" rx="3.5" fill="#000" shape-rendering="geometricPrecision"/>
<rect x="69" y="440" width="13.5" height="72.5" rx="2.5" fill="#fff" shape-rendering="geometricPrecision"/>
<text transform="translate(75.7,452.0) scale(0.8,1)" font-size="12" text-anchor="middle">B</text>
<text transform="translate(75.7,466.7) scale(0.8,1)" font-size="12" text-anchor="middle">A</text>
<text transform="translate(75.7,481.4) scale(0.8,1)" font-size="12" text-anchor="middle">N</text>
<text transform="translate(75.7,496.1) scale(0.8,1)" font-size="12" text-anchor="middle">K</text>
<text transform="translate(75.7,510.8) scale(0.8,1)" font-size="12" text-anchor="middle">0</text>
<rect x="160" y="439" width="15.5" height="74.5" rx="3.5" fill="#000" shape-rendering="geometricPrecision"/>
<rect x="161" y="440" width="13.5" height="72.5" rx="2.5" fill="#fff" shape-rendering="geometricPrecision"/>
<text transform="translate(167.7,452.0) scale(0.8,1)" font-size="12" text-anchor="middle">B</text>
<text transform="translate(167.7,466.7) scale(0.8,1)" font-size="12" text-anchor="middle">A</text>
<text transform="translate(167.7,481.4) scale(0.8,1)" font-size="12" text-anchor="middle">N</text>
<text transform="translate(167.7,496.1) scale(0.8,1)" font-size="12" text-anchor="middle">K</text>
<text transform="translate(167.7,510.8) scale(0.8,1)" font-size="12" text-anchor="middle">1</text>
<text transform="translate(610.38,47.5) scale(1.05,1)" font-size="10.5" letter-spacing="1.428" fill="#000" >36031</text>
</svg>
</body></html>
